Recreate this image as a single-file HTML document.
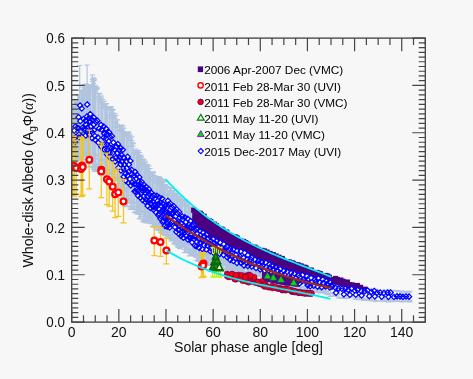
<!DOCTYPE html>
<html><head><meta charset="utf-8"><style>
html,body{margin:0;padding:0;background:#f7f7f7;}
body{width:473px;height:379px;overflow:hidden;position:relative;}
svg{position:absolute;left:0;top:0;will-change:transform;}
</style></head><body>
<svg width="473" height="379" viewBox="0 0 473 379">
<rect width="473" height="379" fill="#f7f7f7"/>
<defs><clipPath id="pc"><rect x="71.7" y="38.1" width="353.6" height="284.0"/></clipPath></defs>
<g clip-path="url(#pc)"><path stroke="#b0c4de" stroke-width="1.2" fill="none" d="M72.8 110.6V155.1M70.2 110.6h5.2M70.2 155.1h5.2M72.8 106.2V151.2M70.2 106.2h5.2M70.2 151.2h5.2M72.8 106.4V147.3M70.2 106.4h5.2M70.2 147.3h5.2M74.0 107.7V152.1M71.4 107.7h5.2M71.4 152.1h5.2M74.0 111.4V154.4M71.4 111.4h5.2M71.4 154.4h5.2M74.0 100.6V155.9M71.4 100.6h5.2M71.4 155.9h5.2M75.2 111.4V159.2M72.6 111.4h5.2M72.6 159.2h5.2M75.2 106.4V150.0M72.6 106.4h5.2M72.6 150.0h5.2M75.2 99.5V150.9M72.6 99.5h5.2M72.6 150.9h5.2M76.5 103.3V156.6M73.9 103.3h5.2M73.9 156.6h5.2M76.5 103.8V149.6M73.9 103.8h5.2M73.9 149.6h5.2M76.5 102.7V154.7M73.9 102.7h5.2M73.9 154.7h5.2M77.8 101.4V159.2M75.2 101.4h5.2M75.2 159.2h5.2M77.8 103.3V157.5M75.2 103.3h5.2M75.2 157.5h5.2M77.8 94.8V158.6M75.2 94.8h5.2M75.2 158.6h5.2M78.9 105.1V157.7M76.3 105.1h5.2M76.3 157.7h5.2M78.9 103.3V157.2M76.3 103.3h5.2M76.3 157.2h5.2M78.9 94.5V158.3M76.3 94.5h5.2M76.3 158.3h5.2M80.2 99.8V160.2M77.6 99.8h5.2M77.6 160.2h5.2M80.2 95.0V156.4M77.6 95.0h5.2M77.6 156.4h5.2M80.2 90.5V157.9M77.6 90.5h5.2M77.6 157.9h5.2M81.6 90.1V157.9M79.0 90.1h5.2M79.0 157.9h5.2M81.6 90.3V157.8M79.0 90.3h5.2M79.0 157.8h5.2M81.6 91.3V149.2M79.0 91.3h5.2M79.0 149.2h5.2M82.8 94.3V148.0M80.2 94.3h5.2M80.2 148.0h5.2M82.8 98.3V156.3M80.2 98.3h5.2M80.2 156.3h5.2M82.8 87.0V150.6M80.2 87.0h5.2M80.2 150.6h5.2M84.0 85.1V164.2M81.4 85.1h5.2M81.4 164.2h5.2M84.0 94.9V159.7M81.4 94.9h5.2M81.4 159.7h5.2M84.0 84.9V166.3M81.4 84.9h5.2M81.4 166.3h5.2M85.0 90.0V152.3M82.4 90.0h5.2M82.4 152.3h5.2M85.0 87.3V155.3M82.4 87.3h5.2M82.4 155.3h5.2M85.0 87.2V153.9M82.4 87.2h5.2M82.4 153.9h5.2M86.3 85.6V162.6M83.7 85.6h5.2M83.7 162.6h5.2M86.3 85.0V153.4M83.7 85.0h5.2M83.7 153.4h5.2M86.3 84.0V166.9M83.7 84.0h5.2M83.7 166.9h5.2M87.8 86.2V152.3M85.2 86.2h5.2M85.2 152.3h5.2M87.8 92.6V154.2M85.2 92.6h5.2M85.2 154.2h5.2M87.8 88.0V155.3M85.2 88.0h5.2M85.2 155.3h5.2M88.7 85.9V148.3M86.1 85.9h5.2M86.1 148.3h5.2M88.7 90.2V167.1M86.1 90.2h5.2M86.1 167.1h5.2M88.7 90.5V157.2M86.1 90.5h5.2M86.1 157.2h5.2M89.8 88.3V167.0M87.2 88.3h5.2M87.2 167.0h5.2M89.8 86.7V163.7M87.2 86.7h5.2M87.2 163.7h5.2M89.8 86.3V154.9M87.2 86.3h5.2M87.2 154.9h5.2M90.9 90.8V156.8M88.3 90.8h5.2M88.3 156.8h5.2M90.9 84.8V159.8M88.3 84.8h5.2M88.3 159.8h5.2M90.9 90.7V162.2M88.3 90.7h5.2M88.3 162.2h5.2M92.5 81.5V161.2M89.9 81.5h5.2M89.9 161.2h5.2M92.5 87.6V166.6M89.9 87.6h5.2M89.9 166.6h5.2M92.5 79.3V159.4M89.9 79.3h5.2M89.9 159.4h5.2M93.6 77.9V169.4M91.0 77.9h5.2M91.0 169.4h5.2M93.6 80.8V167.8M91.0 80.8h5.2M91.0 167.8h5.2M93.6 83.6V157.9M91.0 83.6h5.2M91.0 157.9h5.2M94.5 86.6V154.5M91.9 86.6h5.2M91.9 154.5h5.2M94.5 79.9V163.5M91.9 79.9h5.2M91.9 163.5h5.2M94.5 79.4V171.3M91.9 79.4h5.2M91.9 171.3h5.2M95.6 90.6V155.6M93.0 90.6h5.2M93.0 155.6h5.2M95.6 85.9V170.2M93.0 85.9h5.2M93.0 170.2h5.2M95.6 90.6V167.7M93.0 90.6h5.2M93.0 167.7h5.2M97.1 88.4V170.9M94.5 88.4h5.2M94.5 170.9h5.2M97.1 89.1V165.9M94.5 89.1h5.2M94.5 165.9h5.2M97.1 87.3V158.9M94.5 87.3h5.2M94.5 158.9h5.2M98.6 99.1V167.0M96.0 99.1h5.2M96.0 167.0h5.2M98.6 93.3V164.3M96.0 93.3h5.2M96.0 164.3h5.2M98.6 96.7V171.4M96.0 96.7h5.2M96.0 171.4h5.2M100.0 93.7V173.6M97.4 93.7h5.2M97.4 173.6h5.2M100.0 101.1V167.6M97.4 101.1h5.2M97.4 167.6h5.2M100.0 101.0V173.4M97.4 101.0h5.2M97.4 173.4h5.2M101.4 96.0V166.3M98.8 96.0h5.2M98.8 166.3h5.2M101.4 97.9V166.3M98.8 97.9h5.2M98.8 166.3h5.2M101.4 102.1V160.6M98.8 102.1h5.2M98.8 160.6h5.2M102.7 103.7V159.8M100.1 103.7h5.2M100.1 159.8h5.2M102.7 108.4V170.6M100.1 108.4h5.2M100.1 170.6h5.2M102.7 99.5V167.7M100.1 99.5h5.2M100.1 167.7h5.2M104.2 105.6V170.1M101.6 105.6h5.2M101.6 170.1h5.2M104.2 103.9V159.6M101.6 103.9h5.2M101.6 159.6h5.2M104.2 101.4V159.2M101.6 101.4h5.2M101.6 159.2h5.2M105.5 107.5V170.3M102.9 107.5h5.2M102.9 170.3h5.2M105.5 106.6V175.2M102.9 106.6h5.2M102.9 175.2h5.2M105.5 104.6V163.0M102.9 104.6h5.2M102.9 163.0h5.2M106.6 109.5V174.4M104.0 109.5h5.2M104.0 174.4h5.2M106.6 103.5V173.0M104.0 103.5h5.2M104.0 173.0h5.2M106.6 108.7V172.8M104.0 108.7h5.2M104.0 172.8h5.2M107.9 108.8V172.3M105.3 108.8h5.2M105.3 172.3h5.2M107.9 108.4V179.3M105.3 108.4h5.2M105.3 179.3h5.2M107.9 115.7V176.5M105.3 115.7h5.2M105.3 176.5h5.2M109.5 118.2V172.8M106.9 118.2h5.2M106.9 172.8h5.2M109.5 115.4V169.9M106.9 115.4h5.2M106.9 169.9h5.2M109.5 107.3V177.2M106.9 107.3h5.2M106.9 177.2h5.2M111.0 108.6V176.6M108.4 108.6h5.2M108.4 176.6h5.2M111.0 107.1V182.6M108.4 107.1h5.2M108.4 182.6h5.2M111.0 106.6V172.1M108.4 106.6h5.2M108.4 172.1h5.2M112.3 110.4V177.7M109.7 110.4h5.2M109.7 177.7h5.2M112.3 113.1V174.3M109.7 113.1h5.2M109.7 174.3h5.2M112.3 113.7V179.4M109.7 113.7h5.2M109.7 179.4h5.2M113.2 116.3V171.9M110.6 116.3h5.2M110.6 171.9h5.2M113.2 113.2V177.4M110.6 113.2h5.2M110.6 177.4h5.2M113.2 109.5V181.3M110.6 109.5h5.2M110.6 181.3h5.2M114.8 118.1V168.4M112.2 118.1h5.2M112.2 168.4h5.2M114.8 122.8V177.8M112.2 122.8h5.2M112.2 177.8h5.2M114.8 113.5V184.6M112.2 113.5h5.2M112.2 184.6h5.2M115.9 115.3V180.4M113.3 115.3h5.2M113.3 180.4h5.2M115.9 126.6V177.2M113.3 126.6h5.2M113.3 177.2h5.2M115.9 122.1V177.3M113.3 122.1h5.2M113.3 177.3h5.2M117.4 119.8V179.0M114.8 119.8h5.2M114.8 179.0h5.2M117.4 130.9V189.5M114.8 130.9h5.2M114.8 189.5h5.2M117.4 124.3V184.0M114.8 124.3h5.2M114.8 184.0h5.2M119.0 127.4V185.7M116.4 127.4h5.2M116.4 185.7h5.2M119.0 127.3V178.7M116.4 127.3h5.2M116.4 178.7h5.2M119.0 125.0V179.8M116.4 125.0h5.2M116.4 179.8h5.2M120.1 131.3V190.8M117.5 131.3h5.2M117.5 190.8h5.2M120.1 126.7V177.3M117.5 126.7h5.2M117.5 177.3h5.2M120.1 129.9V191.8M117.5 129.9h5.2M117.5 191.8h5.2M121.4 127.9V198.5M118.8 127.9h5.2M118.8 198.5h5.2M121.4 125.1V187.6M118.8 125.1h5.2M118.8 187.6h5.2M121.4 125.7V190.0M118.8 125.7h5.2M118.8 190.0h5.2M122.6 125.8V193.6M120.0 125.8h5.2M120.0 193.6h5.2M122.6 129.8V198.4M120.0 129.8h5.2M120.0 198.4h5.2M122.6 132.0V185.9M120.0 132.0h5.2M120.0 185.9h5.2M123.6 128.2V187.8M121.0 128.2h5.2M121.0 187.8h5.2M123.6 133.3V201.4M121.0 133.3h5.2M121.0 201.4h5.2M123.6 131.6V196.9M121.0 131.6h5.2M121.0 196.9h5.2M124.7 132.5V190.5M122.1 132.5h5.2M122.1 190.5h5.2M124.7 135.5V206.6M122.1 135.5h5.2M122.1 206.6h5.2M124.7 135.2V199.9M122.1 135.2h5.2M122.1 199.9h5.2M126.2 135.3V189.6M123.6 135.3h5.2M123.6 189.6h5.2M126.2 134.6V199.9M123.6 134.6h5.2M123.6 199.9h5.2M126.2 133.3V188.0M123.6 133.3h5.2M123.6 188.0h5.2M127.3 134.5V188.3M124.7 134.5h5.2M124.7 188.3h5.2M127.3 134.6V191.8M124.7 134.6h5.2M124.7 191.8h5.2M127.3 136.3V206.1M124.7 136.3h5.2M124.7 206.1h5.2M128.7 133.4V203.2M126.1 133.4h5.2M126.1 203.2h5.2M128.7 131.8V195.2M126.1 131.8h5.2M126.1 195.2h5.2M128.7 136.8V198.9M126.1 136.8h5.2M126.1 198.9h5.2M130.2 139.2V209.5M127.6 139.2h5.2M127.6 209.5h5.2M130.2 146.4V206.8M127.6 146.4h5.2M127.6 206.8h5.2M130.2 135.2V209.1M127.6 135.2h5.2M127.6 209.1h5.2M131.7 136.9V208.9M129.1 136.9h5.2M129.1 208.9h5.2M131.7 146.3V201.2M129.1 146.3h5.2M129.1 201.2h5.2M131.7 140.7V195.0M129.1 140.7h5.2M129.1 195.0h5.2M133.1 143.7V209.3M130.5 143.7h5.2M130.5 209.3h5.2M133.1 146.0V202.3M130.5 146.0h5.2M130.5 202.3h5.2M133.1 142.8V209.2M130.5 142.8h5.2M130.5 209.2h5.2M134.4 154.3V212.3M131.8 154.3h5.2M131.8 212.3h5.2M134.4 150.5V202.8M131.8 150.5h5.2M131.8 202.8h5.2M134.4 153.0V212.6M131.8 153.0h5.2M131.8 212.6h5.2M136.0 152.8V209.7M133.4 152.8h5.2M133.4 209.7h5.2M136.0 149.0V212.5M133.4 149.0h5.2M133.4 212.5h5.2M136.0 157.4V206.7M133.4 157.4h5.2M133.4 206.7h5.2M137.1 157.0V213.1M134.5 157.0h5.2M134.5 213.1h5.2M137.1 154.2V203.7M134.5 154.2h5.2M134.5 203.7h5.2M137.1 151.8V214.0M134.5 151.8h5.2M134.5 214.0h5.2M138.2 155.7V211.6M135.6 155.7h5.2M135.6 211.6h5.2M138.2 150.7V204.5M135.6 150.7h5.2M135.6 204.5h5.2M138.2 150.9V210.9M135.6 150.9h5.2M135.6 210.9h5.2M139.4 152.5V214.3M136.8 152.5h5.2M136.8 214.3h5.2M139.4 158.9V218.7M136.8 158.9h5.2M136.8 218.7h5.2M139.4 155.5V205.7M136.8 155.5h5.2M136.8 205.7h5.2M140.7 166.4V219.0M138.1 166.4h5.2M138.1 219.0h5.2M140.7 155.6V216.7M138.1 155.6h5.2M138.1 216.7h5.2M140.7 155.2V212.4M138.1 155.2h5.2M138.1 212.4h5.2M141.6 159.0V211.3M139.0 159.0h5.2M139.0 211.3h5.2M141.6 163.2V211.4M139.0 163.2h5.2M139.0 211.4h5.2M141.6 157.2V206.6M139.0 157.2h5.2M139.0 206.6h5.2M143.0 169.0V221.2M140.4 169.0h5.2M140.4 221.2h5.2M143.0 159.0V214.7M140.4 159.0h5.2M140.4 214.7h5.2M143.0 163.3V221.8M140.4 163.3h5.2M140.4 221.8h5.2M144.3 164.8V213.0M141.7 164.8h5.2M141.7 213.0h5.2M144.3 165.5V219.9M141.7 165.5h5.2M141.7 219.9h5.2M144.3 160.2V212.0M141.7 160.2h5.2M141.7 212.0h5.2M145.4 169.3V216.1M142.8 169.3h5.2M142.8 216.1h5.2M145.4 162.7V222.0M142.8 162.7h5.2M142.8 222.0h5.2M145.4 162.1V222.6M142.8 162.1h5.2M142.8 222.6h5.2M146.7 173.9V221.6M144.1 173.9h5.2M144.1 221.6h5.2M146.7 165.3V219.8M144.1 165.3h5.2M144.1 219.8h5.2M146.7 170.7V223.0M144.1 170.7h5.2M144.1 223.0h5.2M147.7 170.6V216.6M145.1 170.6h5.2M145.1 216.6h5.2M147.7 164.6V218.1M145.1 164.6h5.2M145.1 218.1h5.2M147.7 172.0V220.4M145.1 172.0h5.2M145.1 220.4h5.2M148.9 171.9V214.0M146.3 171.9h5.2M146.3 214.0h5.2M148.9 172.3V219.9M146.3 172.3h5.2M146.3 219.9h5.2M148.9 166.0V221.5M146.3 166.0h5.2M146.3 221.5h5.2M149.9 173.9V216.8M147.3 173.9h5.2M147.3 216.8h5.2M149.9 172.3V214.9M147.3 172.3h5.2M147.3 214.9h5.2M149.9 168.5V223.4M147.3 168.5h5.2M147.3 223.4h5.2M151.0 173.2V219.5M148.4 173.2h5.2M148.4 219.5h5.2M151.0 176.7V217.8M148.4 176.7h5.2M148.4 217.8h5.2M151.0 180.1V223.6M148.4 180.1h5.2M148.4 223.6h5.2M152.4 179.7V222.4M149.8 179.7h5.2M149.8 222.4h5.2M152.4 174.8V220.2M149.8 174.8h5.2M149.8 220.2h5.2M152.4 172.3V226.7M149.8 172.3h5.2M149.8 226.7h5.2M153.3 172.9V226.4M150.7 172.9h5.2M150.7 226.4h5.2M153.3 175.0V217.3M150.7 175.0h5.2M150.7 217.3h5.2M153.3 171.9V226.0M150.7 171.9h5.2M150.7 226.0h5.2M154.8 182.5V224.2M152.2 182.5h5.2M152.2 224.2h5.2M154.8 175.9V224.5M152.2 175.9h5.2M152.2 224.5h5.2M154.8 176.3V226.9M152.2 176.3h5.2M152.2 226.9h5.2M156.2 178.1V219.6M153.6 178.1h5.2M153.6 219.6h5.2M156.2 182.9V229.2M153.6 182.9h5.2M153.6 229.2h5.2M156.2 181.3V222.3M153.6 181.3h5.2M153.6 222.3h5.2M157.3 178.0V222.9M154.7 178.0h5.2M154.7 222.9h5.2M157.3 177.5V224.2M154.7 177.5h5.2M154.7 224.2h5.2M157.3 181.3V225.9M154.7 181.3h5.2M154.7 225.9h5.2M158.2 179.6V230.4M155.6 179.6h5.2M155.6 230.4h5.2M158.2 176.7V226.6M155.6 176.7h5.2M155.6 226.6h5.2M158.2 180.7V230.4M155.6 180.7h5.2M155.6 230.4h5.2M159.6 183.9V225.8M157.0 183.9h5.2M157.0 225.8h5.2M159.6 182.8V226.2M157.0 182.8h5.2M157.0 226.2h5.2M159.6 177.2V225.9M157.0 177.2h5.2M157.0 225.9h5.2M160.5 181.7V228.8M157.9 181.7h5.2M157.9 228.8h5.2M160.5 178.4V229.0M157.9 178.4h5.2M157.9 229.0h5.2M160.5 184.6V232.2M157.9 184.6h5.2M157.9 232.2h5.2M161.7 187.5V229.2M159.1 187.5h5.2M159.1 229.2h5.2M161.7 186.3V233.1M159.1 186.3h5.2M159.1 233.1h5.2M161.7 185.6V226.1M159.1 185.6h5.2M159.1 226.1h5.2M162.8 179.5V228.3M160.2 179.5h5.2M160.2 228.3h5.2M162.8 185.8V234.2M160.2 185.8h5.2M160.2 234.2h5.2M162.8 184.9V221.4M160.2 184.9h5.2M160.2 221.4h5.2M164.0 181.9V234.4M161.4 181.9h5.2M161.4 234.4h5.2M164.0 181.3V233.7M161.4 181.3h5.2M161.4 233.7h5.2M164.0 180.7V232.1M161.4 180.7h5.2M161.4 232.1h5.2M164.9 188.2V231.8M162.3 188.2h5.2M162.3 231.8h5.2M164.9 187.8V224.8M162.3 187.8h5.2M162.3 224.8h5.2M164.9 186.0V235.7M162.3 186.0h5.2M162.3 235.7h5.2M165.9 193.5V235.1M163.3 193.5h5.2M163.3 235.1h5.2M165.9 184.7V234.2M163.3 184.7h5.2M163.3 234.2h5.2M165.9 184.9V227.4M163.3 184.9h5.2M163.3 227.4h5.2M167.5 187.9V237.0M164.9 187.9h5.2M164.9 237.0h5.2M167.5 186.6V235.4M164.9 186.6h5.2M164.9 235.4h5.2M167.5 195.4V232.6M164.9 195.4h5.2M164.9 232.6h5.2M168.4 195.0V238.3M165.8 195.0h5.2M165.8 238.3h5.2M168.4 193.8V236.1M165.8 193.8h5.2M165.8 236.1h5.2M168.4 190.4V236.7M165.8 190.4h5.2M165.8 236.7h5.2M169.8 191.6V228.0M167.2 191.6h5.2M167.2 228.0h5.2M169.8 187.7V238.1M167.2 187.7h5.2M167.2 238.1h5.2M169.8 199.7V237.6M167.2 199.7h5.2M167.2 237.6h5.2M171.1 188.5V239.3M168.5 188.5h5.2M168.5 239.3h5.2M171.1 191.3V234.7M168.5 191.3h5.2M168.5 234.7h5.2M171.1 198.5V240.8M168.5 198.5h5.2M168.5 240.8h5.2M172.5 191.7V240.6M169.9 191.7h5.2M169.9 240.6h5.2M172.5 193.6V234.9M169.9 193.6h5.2M169.9 234.9h5.2M172.5 199.6V237.8M169.9 199.6h5.2M169.9 237.8h5.2M173.9 195.8V231.0M171.3 195.8h5.2M171.3 231.0h5.2M173.9 196.3V243.9M171.3 196.3h5.2M171.3 243.9h5.2M173.9 190.3V240.4M171.3 190.3h5.2M171.3 240.4h5.2M174.9 193.2V240.4M172.3 193.2h5.2M172.3 240.4h5.2M174.9 197.1V238.6M172.3 197.1h5.2M172.3 238.6h5.2M174.9 194.1V242.7M172.3 194.1h5.2M172.3 242.7h5.2M176.3 201.1V244.8M173.7 201.1h5.2M173.7 244.8h5.2M176.3 195.0V238.0M173.7 195.0h5.2M173.7 238.0h5.2M176.3 200.9V240.8M173.7 200.9h5.2M173.7 240.8h5.2M177.4 193.6V240.8M174.8 193.6h5.2M174.8 240.8h5.2M177.4 197.2V246.8M174.8 197.2h5.2M174.8 246.8h5.2M177.4 199.7V245.0M174.8 199.7h5.2M174.8 245.0h5.2M178.8 206.0V246.0M176.2 206.0h5.2M176.2 246.0h5.2M178.8 196.0V247.5M176.2 196.0h5.2M176.2 247.5h5.2M178.8 197.2V234.1M176.2 197.2h5.2M176.2 234.1h5.2M179.8 200.4V248.6M177.2 200.4h5.2M177.2 248.6h5.2M179.8 196.0V242.5M177.2 196.0h5.2M177.2 242.5h5.2M179.8 196.4V248.1M177.2 196.4h5.2M177.2 248.1h5.2M180.8 199.4V242.8M178.2 199.4h5.2M178.2 242.8h5.2M180.8 202.2V240.5M178.2 202.2h5.2M178.2 240.5h5.2M180.8 198.4V245.1M178.2 198.4h5.2M178.2 245.1h5.2M181.8 199.5V245.4M179.2 199.5h5.2M179.2 245.4h5.2M181.8 200.7V239.6M179.2 200.7h5.2M179.2 239.6h5.2M181.8 201.7V244.5M179.2 201.7h5.2M179.2 244.5h5.2M182.8 200.9V247.2M180.2 200.9h5.2M180.2 247.2h5.2M182.8 201.6V246.7M180.2 201.6h5.2M180.2 246.7h5.2M182.8 203.0V243.6M180.2 203.0h5.2M180.2 243.6h5.2M184.4 201.7V244.7M181.8 201.7h5.2M181.8 244.7h5.2M184.4 199.7V252.5M181.8 199.7h5.2M181.8 252.5h5.2M184.4 204.7V249.3M181.8 204.7h5.2M181.8 249.3h5.2M185.4 199.9V244.2M182.8 199.9h5.2M182.8 244.2h5.2M185.4 206.3V252.6M182.8 206.3h5.2M182.8 252.6h5.2M185.4 206.5V243.0M182.8 206.5h5.2M182.8 243.0h5.2M186.7 201.6V246.7M184.1 201.6h5.2M184.1 246.7h5.2M186.7 206.8V250.1M184.1 206.8h5.2M184.1 250.1h5.2M186.7 204.6V247.6M184.1 204.6h5.2M184.1 247.6h5.2M188.2 204.8V252.7M185.6 204.8h5.2M185.6 252.7h5.2M188.2 212.3V251.5M185.6 212.3h5.2M185.6 251.5h5.2M188.2 202.5V253.0M185.6 202.5h5.2M185.6 253.0h5.2M189.2 210.5V255.8M186.6 210.5h5.2M186.6 255.8h5.2M189.2 204.8V248.9M186.6 204.8h5.2M186.6 248.9h5.2M189.2 211.6V252.3M186.6 211.6h5.2M186.6 252.3h5.2M190.7 213.7V252.4M188.1 213.7h5.2M188.1 252.4h5.2M190.7 208.1V250.3M188.1 208.1h5.2M188.1 250.3h5.2M190.7 208.2V253.3M188.1 208.2h5.2M188.1 253.3h5.2M192.2 207.9V254.5M189.6 207.9h5.2M189.6 254.5h5.2M192.2 206.8V244.4M189.6 206.8h5.2M189.6 244.4h5.2M192.2 210.2V254.9M189.6 210.2h5.2M189.6 254.9h5.2M193.3 210.3V252.6M190.7 210.3h5.2M190.7 252.6h5.2M193.3 212.4V254.3M190.7 212.4h5.2M190.7 254.3h5.2M193.3 208.7V250.9M190.7 208.7h5.2M190.7 250.9h5.2M194.4 210.6V255.9M191.8 210.6h5.2M191.8 255.9h5.2M194.4 211.1V247.6M191.8 211.1h5.2M191.8 247.6h5.2M194.4 211.1V246.8M191.8 211.1h5.2M191.8 246.8h5.2M195.6 217.3V256.9M193.0 217.3h5.2M193.0 256.9h5.2M195.6 210.8V257.2M193.0 210.8h5.2M193.0 257.2h5.2M195.6 217.2V255.7M193.0 217.2h5.2M193.0 255.7h5.2M196.8 220.5V260.4M194.2 220.5h5.2M194.2 260.4h5.2M196.8 213.7V260.3M194.2 213.7h5.2M194.2 260.3h5.2M196.8 210.6V254.6M194.2 210.6h5.2M194.2 254.6h5.2M198.3 221.1V260.9M195.7 221.1h5.2M195.7 260.9h5.2M198.3 222.3V258.7M195.7 222.3h5.2M195.7 258.7h5.2M198.3 220.2V261.3M195.7 220.2h5.2M195.7 261.3h5.2M199.4 221.5V259.5M196.8 221.5h5.2M196.8 259.5h5.2M199.4 221.5V258.7M196.8 221.5h5.2M196.8 258.7h5.2M199.4 218.1V253.5M196.8 218.1h5.2M196.8 253.5h5.2M200.4 214.0V259.0M197.8 214.0h5.2M197.8 259.0h5.2M200.4 222.6V261.9M197.8 222.6h5.2M197.8 261.9h5.2M200.4 215.9V258.3M197.8 215.9h5.2M197.8 258.3h5.2M201.6 219.3V261.1M199.0 219.3h5.2M199.0 261.1h5.2M201.6 224.0V263.5M199.0 224.0h5.2M199.0 263.5h5.2M201.6 219.9V261.9M199.0 219.9h5.2M199.0 261.9h5.2M202.7 220.3V261.0M200.1 220.3h5.2M200.1 261.0h5.2M202.7 220.9V258.3M200.1 220.9h5.2M200.1 258.3h5.2M202.7 224.4V262.6M200.1 224.4h5.2M200.1 262.6h5.2M203.8 216.7V261.0M201.2 216.7h5.2M201.2 261.0h5.2M203.8 222.4V256.5M201.2 222.4h5.2M201.2 256.5h5.2M203.8 219.8V258.9M201.2 219.8h5.2M201.2 258.9h5.2M205.0 218.4V256.7M202.4 218.4h5.2M202.4 256.7h5.2M205.0 219.4V253.0M202.4 219.4h5.2M202.4 253.0h5.2M205.0 219.9V252.0M202.4 219.9h5.2M202.4 252.0h5.2M206.1 220.7V260.2M203.5 220.7h5.2M203.5 260.2h5.2M206.1 220.5V258.7M203.5 220.5h5.2M203.5 258.7h5.2M206.1 218.9V255.4M203.5 218.9h5.2M203.5 255.4h5.2M207.1 220.9V263.7M204.5 220.9h5.2M204.5 263.7h5.2M207.1 224.8V260.6M204.5 224.8h5.2M204.5 260.6h5.2M207.1 220.7V259.3M204.5 220.7h5.2M204.5 259.3h5.2M208.3 224.8V265.3M205.7 224.8h5.2M205.7 265.3h5.2M208.3 226.8V265.1M205.7 226.8h5.2M205.7 265.1h5.2M208.3 222.2V257.8M205.7 222.2h5.2M205.7 257.8h5.2M209.3 222.2V253.2M206.7 222.2h5.2M206.7 253.2h5.2M209.3 221.8V258.8M206.7 221.8h5.2M206.7 258.8h5.2M209.3 223.2V260.3M206.7 223.2h5.2M206.7 260.3h5.2M210.7 229.5V262.3M208.1 229.5h5.2M208.1 262.3h5.2M210.7 227.3V265.4M208.1 227.3h5.2M208.1 265.4h5.2M210.7 224.8V260.2M208.1 224.8h5.2M208.1 260.2h5.2M212.2 227.5V265.3M209.6 227.5h5.2M209.6 265.3h5.2M212.2 228.0V258.7M209.6 228.0h5.2M209.6 258.7h5.2M212.2 227.7V259.6M209.6 227.7h5.2M209.6 259.6h5.2M213.6 225.1V265.5M211.0 225.1h5.2M211.0 265.5h5.2M213.6 226.1V261.4M211.0 226.1h5.2M211.0 261.4h5.2M213.6 227.9V262.9M211.0 227.9h5.2M211.0 262.9h5.2M214.9 232.0V267.4M212.3 232.0h5.2M212.3 267.4h5.2M214.9 227.1V258.2M212.3 227.1h5.2M212.3 258.2h5.2M214.9 225.1V266.3M212.3 225.1h5.2M212.3 266.3h5.2M216.1 231.2V264.1M213.5 231.2h5.2M213.5 264.1h5.2M216.1 228.6V266.7M213.5 228.6h5.2M213.5 266.7h5.2M216.1 225.4V264.4M213.5 225.4h5.2M213.5 264.4h5.2M217.6 227.1V264.8M215.0 227.1h5.2M215.0 264.8h5.2M217.6 229.4V264.1M215.0 229.4h5.2M215.0 264.1h5.2M217.6 227.8V258.6M215.0 227.8h5.2M215.0 258.6h5.2M219.1 230.9V258.9M216.5 230.9h5.2M216.5 258.9h5.2M219.1 232.8V264.9M216.5 232.8h5.2M216.5 264.9h5.2M219.1 230.1V265.3M216.5 230.1h5.2M216.5 265.3h5.2M220.4 229.6V263.2M217.8 229.6h5.2M217.8 263.2h5.2M220.4 232.0V268.1M217.8 232.0h5.2M217.8 268.1h5.2M220.4 228.5V264.2M217.8 228.5h5.2M217.8 264.2h5.2M221.9 228.9V265.6M219.3 228.9h5.2M219.3 265.6h5.2M221.9 232.3V259.6M219.3 232.3h5.2M219.3 259.6h5.2M221.9 230.0V267.9M219.3 230.0h5.2M219.3 267.9h5.2M223.4 234.2V263.9M220.8 234.2h5.2M220.8 263.9h5.2M223.4 230.1V261.2M220.8 230.1h5.2M220.8 261.2h5.2M223.4 232.1V260.9M220.8 232.1h5.2M220.8 260.9h5.2M224.5 231.1V264.3M221.9 231.1h5.2M221.9 264.3h5.2M224.5 229.9V265.8M221.9 229.9h5.2M221.9 265.8h5.2M224.5 232.9V265.6M221.9 232.9h5.2M221.9 265.6h5.2M225.7 231.7V265.4M223.1 231.7h5.2M223.1 265.4h5.2M225.7 233.8V266.0M223.1 233.8h5.2M223.1 266.0h5.2M225.7 238.0V270.0M223.1 238.0h5.2M223.1 270.0h5.2M226.7 233.4V268.3M224.1 233.4h5.2M224.1 268.3h5.2M226.7 240.0V269.1M224.1 240.0h5.2M224.1 269.1h5.2M226.7 232.2V264.7M224.1 232.2h5.2M224.1 264.7h5.2M228.0 232.5V264.9M225.4 232.5h5.2M225.4 264.9h5.2M228.0 238.0V268.3M225.4 238.0h5.2M225.4 268.3h5.2M228.0 235.3V266.1M225.4 235.3h5.2M225.4 266.1h5.2M229.3 233.1V268.5M226.7 233.1h5.2M226.7 268.5h5.2M229.3 235.3V268.5M226.7 235.3h5.2M226.7 268.5h5.2M229.3 235.7V270.9M226.7 235.7h5.2M226.7 270.9h5.2M230.3 241.2V268.6M227.7 241.2h5.2M227.7 268.6h5.2M230.3 233.3V267.4M227.7 233.3h5.2M227.7 267.4h5.2M230.3 233.4V265.6M227.7 233.4h5.2M227.7 265.6h5.2M231.5 235.0V270.4M228.9 235.0h5.2M228.9 270.4h5.2M231.5 238.1V268.1M228.9 238.1h5.2M228.9 268.1h5.2M231.5 234.1V268.8M228.9 234.1h5.2M228.9 268.8h5.2M232.9 236.6V270.1M230.3 236.6h5.2M230.3 270.1h5.2M232.9 240.1V268.9M230.3 240.1h5.2M230.3 268.9h5.2M232.9 240.7V269.1M230.3 240.7h5.2M230.3 269.1h5.2M234.0 236.0V268.0M231.4 236.0h5.2M231.4 268.0h5.2M234.0 237.9V265.9M231.4 237.9h5.2M231.4 265.9h5.2M234.0 240.1V267.9M231.4 240.1h5.2M231.4 267.9h5.2M235.0 237.8V269.9M232.4 237.8h5.2M232.4 269.9h5.2M235.0 243.4V270.6M232.4 243.4h5.2M232.4 270.6h5.2M235.0 237.2V271.7M232.4 237.2h5.2M232.4 271.7h5.2M236.3 237.5V264.5M233.7 237.5h5.2M233.7 264.5h5.2M236.3 238.6V264.0M233.7 238.6h5.2M233.7 264.0h5.2M236.3 237.1V270.3M233.7 237.1h5.2M233.7 270.3h5.2M237.5 240.3V268.1M234.9 240.3h5.2M234.9 268.1h5.2M237.5 240.6V271.2M234.9 240.6h5.2M234.9 271.2h5.2M237.5 241.5V271.3M234.9 241.5h5.2M234.9 271.3h5.2M238.9 241.7V270.9M236.3 241.7h5.2M236.3 270.9h5.2M238.9 239.3V271.8M236.3 239.3h5.2M236.3 271.8h5.2M238.9 240.0V271.6M236.3 240.0h5.2M236.3 271.6h5.2M240.1 239.9V266.1M237.5 239.9h5.2M237.5 266.1h5.2M240.1 239.3V270.9M237.5 239.3h5.2M237.5 270.9h5.2M240.1 243.1V270.0M237.5 243.1h5.2M237.5 270.0h5.2M241.4 242.6V271.4M238.8 242.6h5.2M238.8 271.4h5.2M241.4 245.6V272.1M238.8 245.6h5.2M238.8 272.1h5.2M241.4 243.3V271.1M238.8 243.3h5.2M238.8 271.1h5.2M242.9 240.8V265.2M240.3 240.8h5.2M240.3 265.2h5.2M242.9 239.9V271.5M240.3 239.9h5.2M240.3 271.5h5.2M242.9 240.9V269.0M240.3 240.9h5.2M240.3 269.0h5.2M244.3 242.3V272.3M241.7 242.3h5.2M241.7 272.3h5.2M244.3 243.7V272.9M241.7 243.7h5.2M241.7 272.9h5.2M244.3 241.4V268.4M241.7 241.4h5.2M241.7 268.4h5.2M245.8 240.9V267.9M243.2 240.9h5.2M243.2 267.9h5.2M245.8 243.1V268.0M243.2 243.1h5.2M243.2 268.0h5.2M245.8 242.5V267.9M243.2 242.5h5.2M243.2 267.9h5.2M247.2 245.1V268.5M244.6 245.1h5.2M244.6 268.5h5.2M247.2 242.0V271.9M244.6 242.0h5.2M244.6 271.9h5.2M247.2 242.4V268.9M244.6 242.4h5.2M244.6 268.9h5.2M248.2 242.9V272.0M245.6 242.9h5.2M245.6 272.0h5.2M248.2 245.5V271.8M245.6 245.5h5.2M245.6 271.8h5.2M248.2 242.3V268.9M245.6 242.3h5.2M245.6 268.9h5.2M249.6 244.2V272.3M247.0 244.2h5.2M247.0 272.3h5.2M249.6 244.8V268.0M247.0 244.8h5.2M247.0 268.0h5.2M249.6 247.6V273.3M247.0 247.6h5.2M247.0 273.3h5.2M250.7 246.9V270.4M248.1 246.9h5.2M248.1 270.4h5.2M250.7 247.1V271.7M248.1 247.1h5.2M248.1 271.7h5.2M250.7 246.6V269.2M248.1 246.6h5.2M248.1 269.2h5.2M251.9 245.8V272.1M249.3 245.8h5.2M249.3 272.1h5.2M251.9 244.3V273.0M249.3 244.3h5.2M249.3 273.0h5.2M251.9 244.5V273.1M249.3 244.5h5.2M249.3 273.1h5.2M253.3 245.3V271.3M250.7 245.3h5.2M250.7 271.3h5.2M253.3 247.4V273.6M250.7 247.4h5.2M250.7 273.6h5.2M253.3 249.4V271.0M250.7 249.4h5.2M250.7 271.0h5.2M254.3 246.1V270.0M251.7 246.1h5.2M251.7 270.0h5.2M254.3 245.5V272.7M251.7 245.5h5.2M251.7 272.7h5.2M254.3 245.6V271.5M251.7 245.6h5.2M251.7 271.5h5.2M255.8 246.6V274.1M253.2 246.6h5.2M253.2 274.1h5.2M255.8 251.6V274.1M253.2 251.6h5.2M253.2 274.1h5.2M255.8 247.3V272.4M253.2 247.3h5.2M253.2 272.4h5.2M257.3 250.7V272.3M254.7 250.7h5.2M254.7 272.3h5.2M257.3 248.4V268.9M254.7 248.4h5.2M254.7 268.9h5.2M257.3 251.0V273.0M254.7 251.0h5.2M254.7 273.0h5.2M258.6 248.0V271.7M256.0 248.0h5.2M256.0 271.7h5.2M258.6 251.0V275.0M256.0 251.0h5.2M256.0 275.0h5.2M258.6 248.2V273.8M256.0 248.2h5.2M256.0 273.8h5.2M259.7 254.8V275.9M257.1 254.8h5.2M257.1 275.9h5.2M259.7 253.5V275.0M257.1 253.5h5.2M257.1 275.0h5.2M259.7 248.3V274.2M257.1 248.3h5.2M257.1 274.2h5.2M261.3 251.3V276.6M258.7 251.3h5.2M258.7 276.6h5.2M261.3 249.5V274.2M258.7 249.5h5.2M258.7 274.2h5.2M261.3 249.3V273.5M258.7 249.3h5.2M258.7 273.5h5.2M262.6 250.5V274.1M260.0 250.5h5.2M260.0 274.1h5.2M262.6 252.0V275.4M260.0 252.0h5.2M260.0 275.4h5.2M262.6 253.9V277.2M260.0 253.9h5.2M260.0 277.2h5.2M263.7 253.5V275.8M261.1 253.5h5.2M261.1 275.8h5.2M263.7 252.4V277.8M261.1 252.4h5.2M261.1 277.8h5.2M263.7 252.7V274.1M261.1 252.7h5.2M261.1 274.1h5.2M265.1 251.7V274.9M262.5 251.7h5.2M262.5 274.9h5.2M265.1 251.2V277.2M262.5 251.2h5.2M262.5 277.2h5.2M265.1 252.5V271.2M262.5 252.5h5.2M262.5 271.2h5.2M266.1 253.7V278.4M263.5 253.7h5.2M263.5 278.4h5.2M266.1 251.6V277.9M263.5 251.6h5.2M263.5 277.9h5.2M266.1 253.0V277.9M263.5 253.0h5.2M263.5 277.9h5.2M267.4 256.1V278.4M264.8 256.1h5.2M264.8 278.4h5.2M267.4 252.8V275.1M264.8 252.8h5.2M264.8 275.1h5.2M267.4 254.9V278.1M264.8 254.9h5.2M264.8 278.1h5.2M268.9 255.9V279.6M266.3 255.9h5.2M266.3 279.6h5.2M268.9 255.1V278.0M266.3 255.1h5.2M266.3 278.0h5.2M268.9 254.7V276.2M266.3 254.7h5.2M266.3 276.2h5.2M270.1 253.4V276.9M267.5 253.4h5.2M267.5 276.9h5.2M270.1 257.8V276.8M267.5 257.8h5.2M267.5 276.8h5.2M270.1 255.6V280.6M267.5 255.6h5.2M267.5 280.6h5.2M271.4 255.2V278.2M268.8 255.2h5.2M268.8 278.2h5.2M271.4 253.8V280.1M268.8 253.8h5.2M268.8 280.1h5.2M271.4 257.4V279.4M268.8 257.4h5.2M268.8 279.4h5.2M272.4 257.2V274.8M269.8 257.2h5.2M269.8 274.8h5.2M272.4 258.9V281.7M269.8 258.9h5.2M269.8 281.7h5.2M272.4 254.6V275.3M269.8 254.6h5.2M269.8 275.3h5.2M273.3 258.8V281.2M270.7 258.8h5.2M270.7 281.2h5.2M273.3 257.6V280.6M270.7 257.6h5.2M270.7 280.6h5.2M273.3 255.4V281.2M270.7 255.4h5.2M270.7 281.2h5.2M274.3 256.6V280.3M271.7 256.6h5.2M271.7 280.3h5.2M274.3 259.9V282.5M271.7 259.9h5.2M271.7 282.5h5.2M274.3 260.5V278.9M271.7 260.5h5.2M271.7 278.9h5.2M275.6 261.2V281.0M273.0 261.2h5.2M273.0 281.0h5.2M275.6 260.4V282.6M273.0 260.4h5.2M273.0 282.6h5.2M275.6 259.9V279.9M273.0 259.9h5.2M273.0 279.9h5.2M276.9 257.8V279.0M274.3 257.8h5.2M274.3 279.0h5.2M276.9 260.1V282.5M274.3 260.1h5.2M274.3 282.5h5.2M276.9 259.3V281.1M274.3 259.3h5.2M274.3 281.1h5.2M278.4 258.6V283.3M275.8 258.6h5.2M275.8 283.3h5.2M278.4 260.3V284.2M275.8 260.3h5.2M275.8 284.2h5.2M278.4 258.1V281.7M275.8 258.1h5.2M275.8 281.7h5.2M279.7 258.9V284.0M277.1 258.9h5.2M277.1 284.0h5.2M279.7 259.8V284.2M277.1 259.8h5.2M277.1 284.2h5.2M279.7 259.0V282.5M277.1 259.0h5.2M277.1 282.5h5.2M281.2 262.7V282.2M278.6 262.7h5.2M278.6 282.2h5.2M281.2 260.4V282.7M278.6 260.4h5.2M278.6 282.7h5.2M281.2 259.3V282.4M278.6 259.3h5.2M278.6 282.4h5.2M282.7 260.1V284.6M280.1 260.1h5.2M280.1 284.6h5.2M282.7 259.8V284.7M280.1 259.8h5.2M280.1 284.7h5.2M282.7 259.8V283.4M280.1 259.8h5.2M280.1 283.4h5.2M283.7 260.7V282.5M281.1 260.7h5.2M281.1 282.5h5.2M283.7 260.2V283.6M281.1 260.2h5.2M281.1 283.6h5.2M283.7 261.3V283.9M281.1 261.3h5.2M281.1 283.9h5.2M284.7 261.1V285.3M282.1 261.1h5.2M282.1 285.3h5.2M284.7 263.9V285.6M282.1 263.9h5.2M282.1 285.6h5.2M284.7 264.5V285.2M282.1 264.5h5.2M282.1 285.2h5.2M286.3 264.0V285.9M283.7 264.0h5.2M283.7 285.9h5.2M286.3 264.8V283.6M283.7 264.8h5.2M283.7 283.6h5.2M286.3 261.9V282.7M283.7 261.9h5.2M283.7 282.7h5.2M287.6 263.5V282.9M285.0 263.5h5.2M285.0 282.9h5.2M287.6 261.8V282.7M285.0 261.8h5.2M285.0 282.7h5.2M287.6 262.5V286.0M285.0 262.5h5.2M285.0 286.0h5.2M288.6 265.2V285.9M286.0 265.2h5.2M286.0 285.9h5.2M288.6 263.9V287.9M286.0 263.9h5.2M286.0 287.9h5.2M288.6 265.3V286.9M286.0 265.3h5.2M286.0 286.9h5.2M289.6 265.9V288.2M287.0 265.9h5.2M287.0 288.2h5.2M289.6 263.8V288.3M287.0 263.8h5.2M287.0 288.3h5.2M289.6 265.5V283.2M287.0 265.5h5.2M287.0 283.2h5.2M290.7 265.1V285.4M288.1 265.1h5.2M288.1 285.4h5.2M290.7 266.5V288.6M288.1 266.5h5.2M288.1 288.6h5.2M290.7 269.0V287.9M288.1 269.0h5.2M288.1 287.9h5.2M291.8 264.0V283.7M289.2 264.0h5.2M289.2 283.7h5.2M291.8 265.5V289.0M289.2 265.5h5.2M289.2 289.0h5.2M291.8 266.9V287.2M289.2 266.9h5.2M289.2 287.2h5.2M292.9 264.5V288.3M290.3 264.5h5.2M290.3 288.3h5.2M292.9 265.6V284.4M290.3 265.6h5.2M290.3 284.4h5.2M292.9 265.0V289.2M290.3 265.0h5.2M290.3 289.2h5.2M293.8 266.5V288.9M291.2 266.5h5.2M291.2 288.9h5.2M293.8 271.0V288.7M291.2 271.0h5.2M291.2 288.7h5.2M293.8 265.2V288.9M291.2 265.2h5.2M291.2 288.9h5.2M294.9 266.5V286.7M292.3 266.5h5.2M292.3 286.7h5.2M294.9 267.7V285.1M292.3 267.7h5.2M292.3 285.1h5.2M294.9 268.7V286.6M292.3 268.7h5.2M292.3 286.6h5.2M295.9 270.7V289.6M293.3 270.7h5.2M293.3 289.6h5.2M295.9 268.2V290.1M293.3 268.2h5.2M293.3 290.1h5.2M295.9 266.1V289.7M293.3 266.1h5.2M293.3 289.7h5.2M297.4 267.8V284.6M294.8 267.8h5.2M294.8 284.6h5.2M297.4 267.7V290.4M294.8 267.7h5.2M294.8 290.4h5.2M297.4 269.0V290.2M294.8 269.0h5.2M294.8 290.2h5.2M298.7 271.0V288.5M296.1 271.0h5.2M296.1 288.5h5.2M298.7 267.7V288.0M296.1 267.7h5.2M296.1 288.0h5.2M298.7 267.6V286.2M296.1 267.6h5.2M296.1 286.2h5.2M299.8 269.2V290.8M297.2 269.2h5.2M297.2 290.8h5.2M299.8 270.2V288.9M297.2 270.2h5.2M297.2 288.9h5.2M299.8 268.2V286.5M297.2 268.2h5.2M297.2 286.5h5.2M301.4 268.8V289.5M298.8 268.8h5.2M298.8 289.5h5.2M301.4 269.7V287.3M298.8 269.7h5.2M298.8 287.3h5.2M301.4 270.5V288.0M298.8 270.5h5.2M298.8 288.0h5.2M304.2 270.5V290.9M301.6 270.5h5.2M301.6 290.9h5.2M304.2 270.3V286.5M301.6 270.3h5.2M301.6 286.5h5.2M304.2 273.1V292.1M301.6 273.1h5.2M301.6 292.1h5.2M306.0 274.0V290.1M303.4 274.0h5.2M303.4 290.1h5.2M306.0 271.1V288.6M303.4 271.1h5.2M303.4 288.6h5.2M306.0 271.9V291.7M303.4 271.9h5.2M303.4 291.7h5.2M308.1 274.7V289.2M305.5 274.7h5.2M305.5 289.2h5.2M308.1 273.2V290.2M305.5 273.2h5.2M305.5 290.2h5.2M308.1 272.8V289.6M305.5 272.8h5.2M305.5 289.6h5.2M310.4 274.4V290.3M307.8 274.4h5.2M307.8 290.3h5.2M310.4 273.8V291.3M307.8 273.8h5.2M307.8 291.3h5.2M310.4 274.3V290.9M307.8 274.3h5.2M307.8 290.9h5.2M312.6 277.4V292.1M310.0 277.4h5.2M310.0 292.1h5.2M312.6 274.5V291.9M310.0 274.5h5.2M310.0 291.9h5.2M312.6 276.5V292.2M310.0 276.5h5.2M310.0 292.2h5.2M314.8 278.2V291.2M312.2 278.2h5.2M312.2 291.2h5.2M314.8 277.7V290.9M312.2 277.7h5.2M312.2 290.9h5.2M314.8 276.0V287.8M312.2 276.0h5.2M312.2 287.8h5.2M317.2 277.3V289.0M314.6 277.3h5.2M314.6 289.0h5.2M317.2 277.1V292.5M314.6 277.1h5.2M314.6 292.5h5.2M317.2 276.9V289.7M314.6 276.9h5.2M314.6 289.7h5.2M319.7 277.8V292.7M317.1 277.8h5.2M317.1 292.7h5.2M319.7 278.6V291.1M317.1 278.6h5.2M317.1 291.1h5.2M319.7 279.5V292.9M317.1 279.5h5.2M317.1 292.9h5.2M321.7 278.7V289.1M319.1 278.7h5.2M319.1 289.1h5.2M321.7 281.3V291.4M319.1 281.3h5.2M319.1 291.4h5.2M321.7 280.5V290.6M319.1 280.5h5.2M319.1 290.6h5.2M324.1 280.3V293.2M321.5 280.3h5.2M321.5 293.2h5.2M324.1 279.6V292.5M321.5 279.6h5.2M321.5 292.5h5.2M324.1 279.0V290.9M321.5 279.0h5.2M321.5 290.9h5.2M326.4 280.6V291.7M323.8 280.6h5.2M323.8 291.7h5.2M326.4 280.3V294.2M323.8 280.3h5.2M323.8 294.2h5.2M326.4 280.4V293.5M323.8 280.4h5.2M323.8 293.5h5.2M328.4 281.5V294.0M325.8 281.5h5.2M325.8 294.0h5.2M328.4 281.4V293.4M325.8 281.4h5.2M325.8 293.4h5.2M328.4 281.4V294.6M325.8 281.4h5.2M325.8 294.6h5.2M330.5 281.9V293.0M327.9 281.9h5.2M327.9 293.0h5.2M330.5 282.7V296.3M327.9 282.7h5.2M327.9 296.3h5.2M330.5 282.5V293.5M327.9 282.5h5.2M327.9 293.5h5.2M334.8 284.1V296.1M332.2 284.1h5.2M332.2 296.1h5.2M334.8 284.1V294.7M332.2 284.1h5.2M332.2 294.7h5.2M334.8 284.6V295.3M332.2 284.6h5.2M332.2 295.3h5.2M339.1 284.2V298.2M336.5 284.2h5.2M336.5 298.2h5.2M339.1 284.8V297.4M336.5 284.8h5.2M336.5 297.4h5.2M339.1 284.9V298.1M336.5 284.9h5.2M336.5 298.1h5.2M342.6 286.7V297.9M340.0 286.7h5.2M340.0 297.9h5.2M342.6 285.6V298.4M340.0 285.6h5.2M340.0 298.4h5.2M342.6 286.7V297.4M340.0 286.7h5.2M340.0 297.4h5.2M346.8 288.1V298.3M344.2 288.1h5.2M344.2 298.3h5.2M346.8 287.7V298.1M344.2 287.7h5.2M344.2 298.1h5.2M346.8 287.4V298.3M344.2 287.4h5.2M344.2 298.3h5.2M351.0 288.0V296.9M348.4 288.0h5.2M348.4 296.9h5.2M351.0 286.7V296.7M348.4 286.7h5.2M348.4 296.7h5.2M351.0 287.2V295.8M348.4 287.2h5.2M348.4 295.8h5.2M355.3 288.3V299.4M352.7 288.3h5.2M352.7 299.4h5.2M355.3 288.9V299.3M352.7 288.9h5.2M352.7 299.3h5.2M355.3 287.9V298.8M352.7 287.9h5.2M352.7 298.8h5.2M359.5 288.5V297.4M356.9 288.5h5.2M356.9 297.4h5.2M359.5 288.9V299.2M356.9 288.9h5.2M356.9 299.2h5.2M359.5 287.8V299.7M356.9 287.8h5.2M356.9 299.7h5.2M363.4 289.1V298.8M360.8 289.1h5.2M360.8 298.8h5.2M363.4 290.5V300.5M360.8 290.5h5.2M360.8 300.5h5.2M363.4 288.6V300.1M360.8 288.6h5.2M360.8 300.1h5.2M367.5 288.7V298.2M364.9 288.7h5.2M364.9 298.2h5.2M367.5 290.7V299.6M364.9 290.7h5.2M364.9 299.6h5.2M367.5 289.4V300.4M364.9 289.4h5.2M364.9 300.4h5.2M371.5 289.3V299.9M368.9 289.3h5.2M368.9 299.9h5.2M371.5 289.4V300.6M368.9 289.4h5.2M368.9 300.6h5.2M371.5 289.6V300.8M368.9 289.6h5.2M368.9 300.8h5.2M375.7 290.0V301.3M373.1 290.0h5.2M373.1 301.3h5.2M375.7 289.3V297.1M373.1 289.3h5.2M373.1 297.1h5.2M375.7 290.3V300.7M373.1 290.3h5.2M373.1 300.7h5.2M380.7 290.8V301.2M378.1 290.8h5.2M378.1 301.2h5.2M380.7 290.8V301.1M378.1 290.8h5.2M378.1 301.1h5.2M380.7 290.5V301.0M378.1 290.5h5.2M378.1 301.0h5.2M384.6 290.5V300.1M382.0 290.5h5.2M382.0 300.1h5.2M384.6 290.2V301.5M382.0 290.2h5.2M382.0 301.5h5.2M384.6 290.9V299.9M382.0 290.9h5.2M382.0 299.9h5.2M388.6 290.4V300.3M386.0 290.4h5.2M386.0 300.3h5.2M388.6 290.2V299.1M386.0 290.2h5.2M386.0 299.1h5.2M388.6 290.6V302.0M386.0 290.6h5.2M386.0 302.0h5.2M392.4 290.4V299.3M389.8 290.4h5.2M389.8 299.3h5.2M392.4 290.4V299.8M389.8 290.4h5.2M389.8 299.8h5.2M392.4 291.0V301.7M389.8 291.0h5.2M389.8 301.7h5.2M397.4 291.3V301.3M394.8 291.3h5.2M394.8 301.3h5.2M397.4 291.4V300.9M394.8 291.4h5.2M394.8 300.9h5.2M397.4 290.6V301.1M394.8 290.6h5.2M394.8 301.1h5.2M401.7 291.0V299.7M399.1 291.0h5.2M399.1 299.7h5.2M401.7 291.5V301.8M399.1 291.5h5.2M399.1 301.8h5.2M401.7 292.2V301.7M399.1 292.2h5.2M399.1 301.7h5.2M406.1 292.8V301.7M403.5 292.8h5.2M403.5 301.7h5.2M406.1 292.9V301.2M403.5 292.9h5.2M403.5 301.2h5.2M406.1 291.3V301.7M403.5 291.3h5.2M403.5 301.7h5.2M409.8 291.8V301.8M407.2 291.8h5.2M407.2 301.8h5.2M409.8 291.3V301.6M407.2 291.3h5.2M407.2 301.6h5.2M409.8 291.6V300.4M407.2 291.6h5.2M407.2 300.4h5.2M79.7 65.5V150.0M77.1 65.5h5.2M87.1 65.0V155.0M84.5 65.0h5.2M92.4 75.0V160.0M89.8 75.0h5.2"/><polygon points="192.4,208.7 196,209.2900562509832 200,212.5371630777445 204,215.66275855762822 208,218.67128878777677 212,221.56719986533224 216,224.3549378874367 220,227.03894895123247 224,229.62367915386156 228,232.1135745924661 232,234.51308136418842 236,236.8266455661704 240,239.05871329555433 244,241.21373064948236 248,243.29614372509675 252,245.31039861953943 256,247.26094142995262 260,249.1522182534786 264,250.1886751872593 268,251.974758328437 272,253.7149137741538 276,255.41358762155195 280,257.0752259677735 284,258.7042749099606 288,260.3051805452554 292,261.88238897080004 296,263.4403462837367 300,264.98349858120747 304,266.51629196035464 308,268.04317251832043 312,269.56858635224654 316,271.09697955927555 320,272.63279823654926 324,274.18048848121026 328,275.74449639040034 335,277.5 348,281.5 361,286 369,290 374,292 374,293 368,292 355,289 340,286 330,283 310,278.5 295,273.5 285,271 271,266.5 258,261.5 245,255 233,250.5 225,247.5 214.6,243 206,238.5 196,233 192,224" fill="#4b0082"/><g fill="#4b0082"><rect x="264.4" y="249.5" width="5.2" height="5.2"/><rect x="267.4" y="250.9" width="5.2" height="5.2"/><rect x="270.4" y="252.1" width="5.2" height="5.2"/><rect x="273.4" y="253.4" width="5.2" height="5.2"/><rect x="276.4" y="254.7" width="5.2" height="5.2"/><rect x="279.4" y="255.9" width="5.2" height="5.2"/><rect x="295.4" y="262.2" width="5.2" height="5.2"/><rect x="298.4" y="263.4" width="5.2" height="5.2"/><rect x="301.4" y="264.5" width="5.2" height="5.2"/><rect x="223.7" y="229.4" width="5.2" height="5.2"/><rect x="301.9" y="266.1" width="5.2" height="5.2"/><rect x="252.9" y="247.4" width="5.2" height="5.2"/><rect x="303.1" y="265.2" width="5.2" height="5.2"/><rect x="263.2" y="250.9" width="5.2" height="5.2"/><rect x="244.7" y="242.6" width="5.2" height="5.2"/><rect x="191.1" y="207.6" width="5.2" height="5.2"/><rect x="339.5" y="279.0" width="5.2" height="5.2"/><rect x="308.7" y="267.7" width="5.2" height="5.2"/><rect x="278.5" y="256.8" width="5.2" height="5.2"/><rect x="237.5" y="238.6" width="5.2" height="5.2"/><rect x="284.5" y="260.3" width="5.2" height="5.2"/><rect x="292.1" y="261.9" width="5.2" height="5.2"/><rect x="211.9" y="221.6" width="5.2" height="5.2"/><rect x="324.8" y="273.7" width="5.2" height="5.2"/><rect x="208.1" y="219.0" width="5.2" height="5.2"/><rect x="282.9" y="259.3" width="5.2" height="5.2"/><rect x="298.9" y="265.5" width="5.2" height="5.2"/><rect x="201.4" y="213.6" width="5.2" height="5.2"/><rect x="326.8" y="274.8" width="5.2" height="5.2"/><rect x="317.0" y="271.3" width="5.2" height="5.2"/><rect x="220.4" y="227.5" width="5.2" height="5.2"/><rect x="208.0" y="220.7" width="5.2" height="5.2"/><rect x="293.5" y="262.2" width="5.2" height="5.2"/><rect x="270.0" y="252.8" width="5.2" height="5.2"/><rect x="200.1" y="214.8" width="5.2" height="5.2"/><rect x="293.5" y="263.8" width="5.2" height="5.2"/><rect x="268.2" y="252.7" width="5.2" height="5.2"/><rect x="234.5" y="235.5" width="5.2" height="5.2"/><rect x="355.2" y="284.9" width="5.2" height="5.2"/><rect x="246.1" y="243.8" width="5.2" height="5.2"/><rect x="334.8" y="276.9" width="5.2" height="5.2"/><rect x="297.1" y="265.1" width="5.2" height="5.2"/><rect x="278.1" y="257.6" width="5.2" height="5.2"/><rect x="233.4" y="235.7" width="5.2" height="5.2"/><rect x="317.6" y="271.2" width="5.2" height="5.2"/><rect x="245.1" y="243.2" width="5.2" height="5.2"/><rect x="276.1" y="256.4" width="5.2" height="5.2"/><rect x="233.5" y="235.2" width="5.2" height="5.2"/><rect x="253.8" y="245.8" width="5.2" height="5.2"/><rect x="362.4" y="286.6" width="5.2" height="5.2"/><rect x="289.8" y="260.2" width="5.2" height="5.2"/><rect x="284.9" y="259.0" width="5.2" height="5.2"/><rect x="261.8" y="248.4" width="5.2" height="5.2"/><rect x="212.2" y="223.5" width="5.2" height="5.2"/><rect x="252.6" y="245.4" width="5.2" height="5.2"/><rect x="224.2" y="230.0" width="5.2" height="5.2"/><rect x="232.4" y="234.2" width="5.2" height="5.2"/><rect x="308.0" y="267.8" width="5.2" height="5.2"/><rect x="218.0" y="227.1" width="5.2" height="5.2"/><rect x="206.8" y="218.3" width="5.2" height="5.2"/><rect x="338.2" y="277.5" width="5.2" height="5.2"/><rect x="268.9" y="253.5" width="5.2" height="5.2"/><rect x="332.9" y="275.9" width="5.2" height="5.2"/><rect x="252.9" y="246.7" width="5.2" height="5.2"/><rect x="257.1" y="249.3" width="5.2" height="5.2"/><rect x="227.2" y="233.5" width="5.2" height="5.2"/><rect x="279.8" y="256.5" width="5.2" height="5.2"/><rect x="270.5" y="252.4" width="5.2" height="5.2"/><rect x="315.4" y="270.4" width="5.2" height="5.2"/><rect x="349.6" y="282.3" width="5.2" height="5.2"/><rect x="255.5" y="246.8" width="5.2" height="5.2"/><rect x="298.1" y="263.7" width="5.2" height="5.2"/><rect x="344.8" y="279.5" width="5.2" height="5.2"/><rect x="281.2" y="257.9" width="5.2" height="5.2"/><rect x="238.3" y="239.4" width="5.2" height="5.2"/><rect x="258.5" y="249.0" width="5.2" height="5.2"/><rect x="290.9" y="261.1" width="5.2" height="5.2"/><rect x="259.4" y="247.8" width="5.2" height="5.2"/><rect x="221.7" y="229.9" width="5.2" height="5.2"/><rect x="247.2" y="243.8" width="5.2" height="5.2"/><rect x="209.7" y="221.1" width="5.2" height="5.2"/><rect x="254.4" y="246.9" width="5.2" height="5.2"/><rect x="243.0" y="240.1" width="5.2" height="5.2"/><rect x="245.5" y="241.8" width="5.2" height="5.2"/><rect x="212.7" y="223.6" width="5.2" height="5.2"/><rect x="240.4" y="239.6" width="5.2" height="5.2"/><rect x="351.3" y="283.4" width="5.2" height="5.2"/><rect x="346.6" y="282.0" width="5.2" height="5.2"/><rect x="213.8" y="223.2" width="5.2" height="5.2"/><rect x="195.6" y="210.7" width="5.2" height="5.2"/><rect x="307.9" y="267.8" width="5.2" height="5.2"/><rect x="263.4" y="250.6" width="5.2" height="5.2"/><rect x="314.2" y="269.9" width="5.2" height="5.2"/><rect x="340.3" y="278.7" width="5.2" height="5.2"/><rect x="301.7" y="265.0" width="5.2" height="5.2"/><rect x="210.8" y="222.7" width="5.2" height="5.2"/><rect x="320.3" y="273.4" width="5.2" height="5.2"/><rect x="197.6" y="210.7" width="5.2" height="5.2"/><rect x="219.1" y="226.5" width="5.2" height="5.2"/><rect x="244.0" y="241.4" width="5.2" height="5.2"/><rect x="197.3" y="211.2" width="5.2" height="5.2"/><rect x="303.4" y="265.6" width="5.2" height="5.2"/><rect x="339.0" y="278.9" width="5.2" height="5.2"/><rect x="317.2" y="271.1" width="5.2" height="5.2"/><rect x="267.4" y="252.4" width="5.2" height="5.2"/><rect x="252.2" y="244.6" width="5.2" height="5.2"/><rect x="338.1" y="279.1" width="5.2" height="5.2"/><rect x="241.1" y="239.0" width="5.2" height="5.2"/><rect x="341.6" y="279.7" width="5.2" height="5.2"/><rect x="198.8" y="212.1" width="5.2" height="5.2"/><rect x="210.1" y="221.9" width="5.2" height="5.2"/><rect x="227.6" y="233.6" width="5.2" height="5.2"/><rect x="323.1" y="272.9" width="5.2" height="5.2"/><rect x="313.4" y="270.0" width="5.2" height="5.2"/><rect x="322.7" y="274.7" width="5.2" height="5.2"/><rect x="240.2" y="238.7" width="5.2" height="5.2"/><rect x="357.9" y="284.8" width="5.2" height="5.2"/><rect x="355.0" y="284.5" width="5.2" height="5.2"/><rect x="321.1" y="274.1" width="5.2" height="5.2"/><rect x="301.6" y="265.6" width="5.2" height="5.2"/><rect x="200.0" y="214.2" width="5.2" height="5.2"/><rect x="266.2" y="251.5" width="5.2" height="5.2"/><rect x="354.7" y="282.9" width="5.2" height="5.2"/><rect x="325.3" y="273.7" width="5.2" height="5.2"/><rect x="314.8" y="271.5" width="5.2" height="5.2"/><rect x="236.6" y="237.9" width="5.2" height="5.2"/><rect x="362.0" y="287.3" width="5.2" height="5.2"/><rect x="286.7" y="259.3" width="5.2" height="5.2"/><rect x="200.9" y="214.1" width="5.2" height="5.2"/></g><path fill="#fff" stroke="#0000ff" stroke-width="1.25" d="M74.2 127.8l2.65 2.65l-2.65 2.65l-2.65 -2.65zM77.2 125.1l2.65 2.65l-2.65 2.65l-2.65 -2.65zM80.3 118.5l2.65 2.65l-2.65 2.65l-2.65 -2.65zM83.6 116.4l2.65 2.65l-2.65 2.65l-2.65 -2.65zM86.8 114.0l2.65 2.65l-2.65 2.65l-2.65 -2.65zM90.3 111.4l2.65 2.65l-2.65 2.65l-2.65 -2.65zM93.7 114.8l2.65 2.65l-2.65 2.65l-2.65 -2.65zM97.3 118.0l2.65 2.65l-2.65 2.65l-2.65 -2.65zM101.0 122.3l2.65 2.65l-2.65 2.65l-2.65 -2.65zM103.7 124.0l2.65 2.65l-2.65 2.65l-2.65 -2.65zM106.0 125.9l2.65 2.65l-2.65 2.65l-2.65 -2.65zM109.1 129.7l2.65 2.65l-2.65 2.65l-2.65 -2.65zM111.9 133.5l2.65 2.65l-2.65 2.65l-2.65 -2.65zM117.9 141.5l2.65 2.65l-2.65 2.65l-2.65 -2.65zM120.7 145.5l2.65 2.65l-2.65 2.65l-2.65 -2.65zM122.8 147.1l2.65 2.65l-2.65 2.65l-2.65 -2.65zM127.6 154.1l2.65 2.65l-2.65 2.65l-2.65 -2.65zM130.4 158.4l2.65 2.65l-2.65 2.65l-2.65 -2.65zM135.2 169.3l2.65 2.65l-2.65 2.65l-2.65 -2.65zM136.9 172.1l2.65 2.65l-2.65 2.65l-2.65 -2.65zM139.3 174.5l2.65 2.65l-2.65 2.65l-2.65 -2.65zM141.7 179.4l2.65 2.65l-2.65 2.65l-2.65 -2.65zM143.8 182.1l2.65 2.65l-2.65 2.65l-2.65 -2.65zM146.1 184.2l2.65 2.65l-2.65 2.65l-2.65 -2.65zM148.8 186.5l2.65 2.65l-2.65 2.65l-2.65 -2.65zM151.4 190.3l2.65 2.65l-2.65 2.65l-2.65 -2.65zM154.2 192.7l2.65 2.65l-2.65 2.65l-2.65 -2.65zM156.9 193.1l2.65 2.65l-2.65 2.65l-2.65 -2.65zM159.3 194.9l2.65 2.65l-2.65 2.65l-2.65 -2.65zM162.0 195.9l2.65 2.65l-2.65 2.65l-2.65 -2.65zM167.9 198.2l2.65 2.65l-2.65 2.65l-2.65 -2.65zM170.5 201.1l2.65 2.65l-2.65 2.65l-2.65 -2.65zM173.7 203.5l2.65 2.65l-2.65 2.65l-2.65 -2.65zM176.6 206.6l2.65 2.65l-2.65 2.65l-2.65 -2.65zM179.2 209.4l2.65 2.65l-2.65 2.65l-2.65 -2.65zM182.2 213.9l2.65 2.65l-2.65 2.65l-2.65 -2.65zM184.9 214.7l2.65 2.65l-2.65 2.65l-2.65 -2.65zM187.7 216.2l2.65 2.65l-2.65 2.65l-2.65 -2.65zM190.5 218.3l2.65 2.65l-2.65 2.65l-2.65 -2.65zM193.8 222.3l2.65 2.65l-2.65 2.65l-2.65 -2.65zM196.9 226.7l2.65 2.65l-2.65 2.65l-2.65 -2.65zM199.6 228.4l2.65 2.65l-2.65 2.65l-2.65 -2.65zM202.9 230.0l2.65 2.65l-2.65 2.65l-2.65 -2.65zM206.5 232.2l2.65 2.65l-2.65 2.65l-2.65 -2.65zM213.2 236.5l2.65 2.65l-2.65 2.65l-2.65 -2.65zM216.4 238.5l2.65 2.65l-2.65 2.65l-2.65 -2.65zM220.1 239.7l2.65 2.65l-2.65 2.65l-2.65 -2.65zM223.8 241.5l2.65 2.65l-2.65 2.65l-2.65 -2.65zM227.1 244.4l2.65 2.65l-2.65 2.65l-2.65 -2.65zM230.2 246.0l2.65 2.65l-2.65 2.65l-2.65 -2.65zM233.3 246.9l2.65 2.65l-2.65 2.65l-2.65 -2.65zM237.0 248.4l2.65 2.65l-2.65 2.65l-2.65 -2.65zM240.8 248.7l2.65 2.65l-2.65 2.65l-2.65 -2.65zM244.6 250.1l2.65 2.65l-2.65 2.65l-2.65 -2.65zM247.8 252.5l2.65 2.65l-2.65 2.65l-2.65 -2.65zM251.6 254.9l2.65 2.65l-2.65 2.65l-2.65 -2.65zM255.0 257.1l2.65 2.65l-2.65 2.65l-2.65 -2.65zM258.3 258.3l2.65 2.65l-2.65 2.65l-2.65 -2.65zM261.7 259.9l2.65 2.65l-2.65 2.65l-2.65 -2.65zM265.8 260.0l2.65 2.65l-2.65 2.65l-2.65 -2.65zM269.1 261.6l2.65 2.65l-2.65 2.65l-2.65 -2.65zM272.3 263.6l2.65 2.65l-2.65 2.65l-2.65 -2.65zM275.9 265.1l2.65 2.65l-2.65 2.65l-2.65 -2.65zM280.1 266.3l2.65 2.65l-2.65 2.65l-2.65 -2.65zM283.9 268.3l2.65 2.65l-2.65 2.65l-2.65 -2.65zM287.2 269.2l2.65 2.65l-2.65 2.65l-2.65 -2.65zM291.1 270.2l2.65 2.65l-2.65 2.65l-2.65 -2.65zM294.3 270.8l2.65 2.65l-2.65 2.65l-2.65 -2.65zM298.6 272.8l2.65 2.65l-2.65 2.65l-2.65 -2.65zM302.6 272.4l2.65 2.65l-2.65 2.65l-2.65 -2.65zM306.9 273.5l2.65 2.65l-2.65 2.65l-2.65 -2.65zM311.1 275.2l2.65 2.65l-2.65 2.65l-2.65 -2.65zM315.0 277.2l2.65 2.65l-2.65 2.65l-2.65 -2.65zM318.5 275.7l2.65 2.65l-2.65 2.65l-2.65 -2.65zM322.8 276.8l2.65 2.65l-2.65 2.65l-2.65 -2.65zM326.5 278.6l2.65 2.65l-2.65 2.65l-2.65 -2.65zM330.1 279.7l2.65 2.65l-2.65 2.65l-2.65 -2.65zM78.6 125.7l2.65 2.65l-2.65 2.65l-2.65 -2.65zM85.5 118.0l2.65 2.65l-2.65 2.65l-2.65 -2.65zM88.8 115.5l2.65 2.65l-2.65 2.65l-2.65 -2.65zM92.6 117.5l2.65 2.65l-2.65 2.65l-2.65 -2.65zM96.1 119.5l2.65 2.65l-2.65 2.65l-2.65 -2.65zM99.2 125.8l2.65 2.65l-2.65 2.65l-2.65 -2.65zM101.7 126.9l2.65 2.65l-2.65 2.65l-2.65 -2.65zM104.4 131.2l2.65 2.65l-2.65 2.65l-2.65 -2.65zM107.1 131.3l2.65 2.65l-2.65 2.65l-2.65 -2.65zM109.9 134.4l2.65 2.65l-2.65 2.65l-2.65 -2.65zM113.4 139.8l2.65 2.65l-2.65 2.65l-2.65 -2.65zM116.4 144.0l2.65 2.65l-2.65 2.65l-2.65 -2.65zM119.1 147.5l2.65 2.65l-2.65 2.65l-2.65 -2.65zM121.7 152.6l2.65 2.65l-2.65 2.65l-2.65 -2.65zM123.7 154.7l2.65 2.65l-2.65 2.65l-2.65 -2.65zM126.3 159.2l2.65 2.65l-2.65 2.65l-2.65 -2.65zM128.9 161.8l2.65 2.65l-2.65 2.65l-2.65 -2.65zM131.6 167.2l2.65 2.65l-2.65 2.65l-2.65 -2.65zM134.0 172.9l2.65 2.65l-2.65 2.65l-2.65 -2.65zM136.6 176.1l2.65 2.65l-2.65 2.65l-2.65 -2.65zM138.5 178.9l2.65 2.65l-2.65 2.65l-2.65 -2.65zM140.4 180.9l2.65 2.65l-2.65 2.65l-2.65 -2.65zM143.0 184.6l2.65 2.65l-2.65 2.65l-2.65 -2.65zM145.2 186.6l2.65 2.65l-2.65 2.65l-2.65 -2.65zM147.3 188.4l2.65 2.65l-2.65 2.65l-2.65 -2.65zM149.8 192.1l2.65 2.65l-2.65 2.65l-2.65 -2.65zM152.2 193.7l2.65 2.65l-2.65 2.65l-2.65 -2.65zM154.7 195.9l2.65 2.65l-2.65 2.65l-2.65 -2.65zM157.5 198.3l2.65 2.65l-2.65 2.65l-2.65 -2.65zM160.4 199.9l2.65 2.65l-2.65 2.65l-2.65 -2.65zM162.7 200.9l2.65 2.65l-2.65 2.65l-2.65 -2.65zM165.3 203.0l2.65 2.65l-2.65 2.65l-2.65 -2.65zM168.5 201.9l2.65 2.65l-2.65 2.65l-2.65 -2.65zM172.0 204.8l2.65 2.65l-2.65 2.65l-2.65 -2.65zM174.5 207.6l2.65 2.65l-2.65 2.65l-2.65 -2.65zM177.4 210.6l2.65 2.65l-2.65 2.65l-2.65 -2.65zM179.8 215.1l2.65 2.65l-2.65 2.65l-2.65 -2.65zM182.7 216.7l2.65 2.65l-2.65 2.65l-2.65 -2.65zM185.9 219.4l2.65 2.65l-2.65 2.65l-2.65 -2.65zM189.2 222.0l2.65 2.65l-2.65 2.65l-2.65 -2.65zM191.9 222.7l2.65 2.65l-2.65 2.65l-2.65 -2.65zM194.9 227.6l2.65 2.65l-2.65 2.65l-2.65 -2.65zM197.4 230.5l2.65 2.65l-2.65 2.65l-2.65 -2.65zM200.8 232.5l2.65 2.65l-2.65 2.65l-2.65 -2.65zM204.2 233.4l2.65 2.65l-2.65 2.65l-2.65 -2.65zM207.3 236.5l2.65 2.65l-2.65 2.65l-2.65 -2.65zM210.9 238.3l2.65 2.65l-2.65 2.65l-2.65 -2.65zM214.4 240.1l2.65 2.65l-2.65 2.65l-2.65 -2.65zM218.2 244.2l2.65 2.65l-2.65 2.65l-2.65 -2.65zM221.9 245.3l2.65 2.65l-2.65 2.65l-2.65 -2.65zM225.1 245.4l2.65 2.65l-2.65 2.65l-2.65 -2.65zM229.0 247.3l2.65 2.65l-2.65 2.65l-2.65 -2.65zM232.4 250.3l2.65 2.65l-2.65 2.65l-2.65 -2.65zM236.1 252.1l2.65 2.65l-2.65 2.65l-2.65 -2.65zM239.6 253.6l2.65 2.65l-2.65 2.65l-2.65 -2.65zM243.6 255.2l2.65 2.65l-2.65 2.65l-2.65 -2.65zM247.1 256.6l2.65 2.65l-2.65 2.65l-2.65 -2.65zM250.8 256.9l2.65 2.65l-2.65 2.65l-2.65 -2.65zM258.8 261.0l2.65 2.65l-2.65 2.65l-2.65 -2.65zM262.4 263.1l2.65 2.65l-2.65 2.65l-2.65 -2.65zM269.9 264.7l2.65 2.65l-2.65 2.65l-2.65 -2.65zM273.7 266.4l2.65 2.65l-2.65 2.65l-2.65 -2.65zM277.3 267.6l2.65 2.65l-2.65 2.65l-2.65 -2.65zM281.3 271.0l2.65 2.65l-2.65 2.65l-2.65 -2.65zM284.5 271.8l2.65 2.65l-2.65 2.65l-2.65 -2.65zM288.8 273.1l2.65 2.65l-2.65 2.65l-2.65 -2.65zM292.2 274.0l2.65 2.65l-2.65 2.65l-2.65 -2.65zM295.7 275.7l2.65 2.65l-2.65 2.65l-2.65 -2.65zM299.8 274.5l2.65 2.65l-2.65 2.65l-2.65 -2.65zM303.6 277.3l2.65 2.65l-2.65 2.65l-2.65 -2.65zM307.6 277.0l2.65 2.65l-2.65 2.65l-2.65 -2.65zM312.0 279.6l2.65 2.65l-2.65 2.65l-2.65 -2.65zM315.7 279.2l2.65 2.65l-2.65 2.65l-2.65 -2.65zM319.4 279.5l2.65 2.65l-2.65 2.65l-2.65 -2.65zM323.5 280.2l2.65 2.65l-2.65 2.65l-2.65 -2.65zM327.1 281.3l2.65 2.65l-2.65 2.65l-2.65 -2.65zM331.5 282.7l2.65 2.65l-2.65 2.65l-2.65 -2.65zM75.5 134.7l2.65 2.65l-2.65 2.65l-2.65 -2.65zM78.9 131.9l2.65 2.65l-2.65 2.65l-2.65 -2.65zM82.5 125.1l2.65 2.65l-2.65 2.65l-2.65 -2.65zM86.0 121.8l2.65 2.65l-2.65 2.65l-2.65 -2.65zM89.8 118.5l2.65 2.65l-2.65 2.65l-2.65 -2.65zM93.7 122.0l2.65 2.65l-2.65 2.65l-2.65 -2.65zM103.8 135.0l2.65 2.65l-2.65 2.65l-2.65 -2.65zM106.2 135.7l2.65 2.65l-2.65 2.65l-2.65 -2.65zM108.7 138.7l2.65 2.65l-2.65 2.65l-2.65 -2.65zM111.9 145.7l2.65 2.65l-2.65 2.65l-2.65 -2.65zM114.5 147.0l2.65 2.65l-2.65 2.65l-2.65 -2.65zM117.5 150.3l2.65 2.65l-2.65 2.65l-2.65 -2.65zM119.9 154.7l2.65 2.65l-2.65 2.65l-2.65 -2.65zM122.0 159.2l2.65 2.65l-2.65 2.65l-2.65 -2.65zM124.6 161.6l2.65 2.65l-2.65 2.65l-2.65 -2.65zM126.7 165.6l2.65 2.65l-2.65 2.65l-2.65 -2.65zM129.4 168.4l2.65 2.65l-2.65 2.65l-2.65 -2.65zM131.8 171.9l2.65 2.65l-2.65 2.65l-2.65 -2.65zM134.2 181.4l2.65 2.65l-2.65 2.65l-2.65 -2.65zM136.3 181.8l2.65 2.65l-2.65 2.65l-2.65 -2.65zM138.5 182.8l2.65 2.65l-2.65 2.65l-2.65 -2.65zM140.5 184.7l2.65 2.65l-2.65 2.65l-2.65 -2.65zM142.8 188.3l2.65 2.65l-2.65 2.65l-2.65 -2.65zM145.0 190.0l2.65 2.65l-2.65 2.65l-2.65 -2.65zM147.5 194.0l2.65 2.65l-2.65 2.65l-2.65 -2.65zM150.2 197.7l2.65 2.65l-2.65 2.65l-2.65 -2.65zM152.9 198.8l2.65 2.65l-2.65 2.65l-2.65 -2.65zM155.6 202.4l2.65 2.65l-2.65 2.65l-2.65 -2.65zM158.1 201.4l2.65 2.65l-2.65 2.65l-2.65 -2.65zM161.1 203.4l2.65 2.65l-2.65 2.65l-2.65 -2.65zM164.0 205.3l2.65 2.65l-2.65 2.65l-2.65 -2.65zM166.7 205.2l2.65 2.65l-2.65 2.65l-2.65 -2.65zM169.4 207.8l2.65 2.65l-2.65 2.65l-2.65 -2.65zM172.8 210.0l2.65 2.65l-2.65 2.65l-2.65 -2.65zM175.5 213.8l2.65 2.65l-2.65 2.65l-2.65 -2.65zM181.0 221.1l2.65 2.65l-2.65 2.65l-2.65 -2.65zM183.9 223.6l2.65 2.65l-2.65 2.65l-2.65 -2.65zM186.8 223.9l2.65 2.65l-2.65 2.65l-2.65 -2.65zM190.0 224.9l2.65 2.65l-2.65 2.65l-2.65 -2.65zM193.1 228.8l2.65 2.65l-2.65 2.65l-2.65 -2.65zM195.9 234.4l2.65 2.65l-2.65 2.65l-2.65 -2.65zM199.1 235.3l2.65 2.65l-2.65 2.65l-2.65 -2.65zM202.5 238.1l2.65 2.65l-2.65 2.65l-2.65 -2.65zM206.1 238.7l2.65 2.65l-2.65 2.65l-2.65 -2.65zM210.2 241.3l2.65 2.65l-2.65 2.65l-2.65 -2.65zM213.8 243.7l2.65 2.65l-2.65 2.65l-2.65 -2.65zM217.1 247.3l2.65 2.65l-2.65 2.65l-2.65 -2.65zM220.9 249.0l2.65 2.65l-2.65 2.65l-2.65 -2.65zM224.9 248.9l2.65 2.65l-2.65 2.65l-2.65 -2.65zM228.9 252.8l2.65 2.65l-2.65 2.65l-2.65 -2.65zM232.0 253.1l2.65 2.65l-2.65 2.65l-2.65 -2.65zM235.5 255.9l2.65 2.65l-2.65 2.65l-2.65 -2.65zM239.1 255.7l2.65 2.65l-2.65 2.65l-2.65 -2.65zM243.4 258.9l2.65 2.65l-2.65 2.65l-2.65 -2.65zM247.1 260.4l2.65 2.65l-2.65 2.65l-2.65 -2.65zM250.4 261.3l2.65 2.65l-2.65 2.65l-2.65 -2.65zM254.2 261.5l2.65 2.65l-2.65 2.65l-2.65 -2.65zM261.2 264.5l2.65 2.65l-2.65 2.65l-2.65 -2.65zM264.7 268.1l2.65 2.65l-2.65 2.65l-2.65 -2.65zM268.3 267.9l2.65 2.65l-2.65 2.65l-2.65 -2.65zM271.6 269.8l2.65 2.65l-2.65 2.65l-2.65 -2.65zM275.0 270.7l2.65 2.65l-2.65 2.65l-2.65 -2.65zM278.9 272.2l2.65 2.65l-2.65 2.65l-2.65 -2.65zM282.6 273.7l2.65 2.65l-2.65 2.65l-2.65 -2.65zM286.1 275.4l2.65 2.65l-2.65 2.65l-2.65 -2.65zM290.1 274.9l2.65 2.65l-2.65 2.65l-2.65 -2.65zM293.8 278.1l2.65 2.65l-2.65 2.65l-2.65 -2.65zM298.1 278.7l2.65 2.65l-2.65 2.65l-2.65 -2.65zM302.1 278.6l2.65 2.65l-2.65 2.65l-2.65 -2.65zM306.4 279.5l2.65 2.65l-2.65 2.65l-2.65 -2.65zM310.3 283.6l2.65 2.65l-2.65 2.65l-2.65 -2.65zM313.7 283.1l2.65 2.65l-2.65 2.65l-2.65 -2.65zM317.6 284.0l2.65 2.65l-2.65 2.65l-2.65 -2.65zM321.6 284.5l2.65 2.65l-2.65 2.65l-2.65 -2.65zM325.5 283.9l2.65 2.65l-2.65 2.65l-2.65 -2.65zM329.7 284.9l2.65 2.65l-2.65 2.65l-2.65 -2.65zM75.0 139.5l2.65 2.65l-2.65 2.65l-2.65 -2.65zM78.8 134.8l2.65 2.65l-2.65 2.65l-2.65 -2.65zM81.7 134.0l2.65 2.65l-2.65 2.65l-2.65 -2.65zM84.6 125.6l2.65 2.65l-2.65 2.65l-2.65 -2.65zM87.4 125.0l2.65 2.65l-2.65 2.65l-2.65 -2.65zM90.8 123.9l2.65 2.65l-2.65 2.65l-2.65 -2.65zM94.1 127.6l2.65 2.65l-2.65 2.65l-2.65 -2.65zM97.9 134.8l2.65 2.65l-2.65 2.65l-2.65 -2.65zM104.3 141.8l2.65 2.65l-2.65 2.65l-2.65 -2.65zM106.9 141.6l2.65 2.65l-2.65 2.65l-2.65 -2.65zM109.9 145.1l2.65 2.65l-2.65 2.65l-2.65 -2.65zM112.5 150.5l2.65 2.65l-2.65 2.65l-2.65 -2.65zM115.8 155.4l2.65 2.65l-2.65 2.65l-2.65 -2.65zM118.3 157.0l2.65 2.65l-2.65 2.65l-2.65 -2.65zM120.7 161.7l2.65 2.65l-2.65 2.65l-2.65 -2.65zM123.2 166.0l2.65 2.65l-2.65 2.65l-2.65 -2.65zM125.4 171.4l2.65 2.65l-2.65 2.65l-2.65 -2.65zM127.4 172.9l2.65 2.65l-2.65 2.65l-2.65 -2.65zM129.9 176.4l2.65 2.65l-2.65 2.65l-2.65 -2.65zM132.1 180.0l2.65 2.65l-2.65 2.65l-2.65 -2.65zM134.6 188.6l2.65 2.65l-2.65 2.65l-2.65 -2.65zM136.9 187.4l2.65 2.65l-2.65 2.65l-2.65 -2.65zM139.2 187.6l2.65 2.65l-2.65 2.65l-2.65 -2.65zM141.6 190.1l2.65 2.65l-2.65 2.65l-2.65 -2.65zM143.6 193.9l2.65 2.65l-2.65 2.65l-2.65 -2.65zM146.2 196.9l2.65 2.65l-2.65 2.65l-2.65 -2.65zM148.6 199.4l2.65 2.65l-2.65 2.65l-2.65 -2.65zM151.0 200.5l2.65 2.65l-2.65 2.65l-2.65 -2.65zM153.4 204.5l2.65 2.65l-2.65 2.65l-2.65 -2.65zM155.8 204.8l2.65 2.65l-2.65 2.65l-2.65 -2.65zM158.8 206.0l2.65 2.65l-2.65 2.65l-2.65 -2.65zM161.2 209.9l2.65 2.65l-2.65 2.65l-2.65 -2.65zM163.5 208.2l2.65 2.65l-2.65 2.65l-2.65 -2.65zM165.9 209.8l2.65 2.65l-2.65 2.65l-2.65 -2.65zM168.6 210.5l2.65 2.65l-2.65 2.65l-2.65 -2.65zM171.8 211.6l2.65 2.65l-2.65 2.65l-2.65 -2.65zM174.5 217.4l2.65 2.65l-2.65 2.65l-2.65 -2.65zM177.5 220.3l2.65 2.65l-2.65 2.65l-2.65 -2.65zM179.8 223.1l2.65 2.65l-2.65 2.65l-2.65 -2.65zM182.3 225.5l2.65 2.65l-2.65 2.65l-2.65 -2.65zM185.1 226.0l2.65 2.65l-2.65 2.65l-2.65 -2.65zM188.2 226.6l2.65 2.65l-2.65 2.65l-2.65 -2.65zM190.9 232.2l2.65 2.65l-2.65 2.65l-2.65 -2.65zM194.1 233.9l2.65 2.65l-2.65 2.65l-2.65 -2.65zM196.8 239.5l2.65 2.65l-2.65 2.65l-2.65 -2.65zM200.3 239.6l2.65 2.65l-2.65 2.65l-2.65 -2.65zM204.2 242.6l2.65 2.65l-2.65 2.65l-2.65 -2.65zM207.4 242.9l2.65 2.65l-2.65 2.65l-2.65 -2.65zM211.4 246.2l2.65 2.65l-2.65 2.65l-2.65 -2.65zM215.5 248.7l2.65 2.65l-2.65 2.65l-2.65 -2.65zM219.7 251.2l2.65 2.65l-2.65 2.65l-2.65 -2.65zM223.5 252.2l2.65 2.65l-2.65 2.65l-2.65 -2.65zM227.0 254.3l2.65 2.65l-2.65 2.65l-2.65 -2.65zM230.2 257.3l2.65 2.65l-2.65 2.65l-2.65 -2.65zM233.3 258.3l2.65 2.65l-2.65 2.65l-2.65 -2.65zM237.0 260.3l2.65 2.65l-2.65 2.65l-2.65 -2.65zM240.7 260.0l2.65 2.65l-2.65 2.65l-2.65 -2.65zM244.0 262.8l2.65 2.65l-2.65 2.65l-2.65 -2.65zM247.8 263.3l2.65 2.65l-2.65 2.65l-2.65 -2.65zM251.7 263.9l2.65 2.65l-2.65 2.65l-2.65 -2.65zM256.0 265.4l2.65 2.65l-2.65 2.65l-2.65 -2.65zM260.2 266.9l2.65 2.65l-2.65 2.65l-2.65 -2.65zM292.6 279.5l2.65 2.65l-2.65 2.65l-2.65 -2.65zM296.0 280.7l2.65 2.65l-2.65 2.65l-2.65 -2.65zM299.4 280.8l2.65 2.65l-2.65 2.65l-2.65 -2.65zM307.7 282.7l2.65 2.65l-2.65 2.65l-2.65 -2.65zM84.6 127.6l2.65 2.65l-2.65 2.65l-2.65 -2.65zM87.7 128.7l2.65 2.65l-2.65 2.65l-2.65 -2.65zM91.4 128.6l2.65 2.65l-2.65 2.65l-2.65 -2.65zM94.9 133.4l2.65 2.65l-2.65 2.65l-2.65 -2.65zM98.4 140.1l2.65 2.65l-2.65 2.65l-2.65 -2.65zM101.3 144.0l2.65 2.65l-2.65 2.65l-2.65 -2.65zM104.4 147.1l2.65 2.65l-2.65 2.65l-2.65 -2.65zM107.1 147.1l2.65 2.65l-2.65 2.65l-2.65 -2.65zM109.8 150.4l2.65 2.65l-2.65 2.65l-2.65 -2.65zM112.5 156.2l2.65 2.65l-2.65 2.65l-2.65 -2.65zM115.3 158.7l2.65 2.65l-2.65 2.65l-2.65 -2.65zM118.4 165.1l2.65 2.65l-2.65 2.65l-2.65 -2.65zM121.0 167.9l2.65 2.65l-2.65 2.65l-2.65 -2.65zM123.7 174.1l2.65 2.65l-2.65 2.65l-2.65 -2.65zM125.8 178.3l2.65 2.65l-2.65 2.65l-2.65 -2.65zM128.4 180.1l2.65 2.65l-2.65 2.65l-2.65 -2.65zM130.8 182.7l2.65 2.65l-2.65 2.65l-2.65 -2.65zM135.8 189.3l2.65 2.65l-2.65 2.65l-2.65 -2.65zM138.1 193.2l2.65 2.65l-2.65 2.65l-2.65 -2.65zM140.5 195.0l2.65 2.65l-2.65 2.65l-2.65 -2.65zM142.7 197.6l2.65 2.65l-2.65 2.65l-2.65 -2.65zM145.3 199.4l2.65 2.65l-2.65 2.65l-2.65 -2.65zM147.7 203.3l2.65 2.65l-2.65 2.65l-2.65 -2.65zM150.6 205.3l2.65 2.65l-2.65 2.65l-2.65 -2.65zM153.5 207.0l2.65 2.65l-2.65 2.65l-2.65 -2.65zM156.1 209.9l2.65 2.65l-2.65 2.65l-2.65 -2.65zM159.1 211.0l2.65 2.65l-2.65 2.65l-2.65 -2.65zM161.6 214.4l2.65 2.65l-2.65 2.65l-2.65 -2.65zM164.3 215.1l2.65 2.65l-2.65 2.65l-2.65 -2.65zM167.1 212.2l2.65 2.65l-2.65 2.65l-2.65 -2.65zM170.4 214.7l2.65 2.65l-2.65 2.65l-2.65 -2.65zM176.5 221.1l2.65 2.65l-2.65 2.65l-2.65 -2.65zM179.4 227.2l2.65 2.65l-2.65 2.65l-2.65 -2.65zM182.1 229.0l2.65 2.65l-2.65 2.65l-2.65 -2.65zM184.8 229.5l2.65 2.65l-2.65 2.65l-2.65 -2.65zM187.6 229.6l2.65 2.65l-2.65 2.65l-2.65 -2.65zM190.8 235.1l2.65 2.65l-2.65 2.65l-2.65 -2.65zM193.9 236.6l2.65 2.65l-2.65 2.65l-2.65 -2.65zM196.3 243.6l2.65 2.65l-2.65 2.65l-2.65 -2.65zM199.2 245.2l2.65 2.65l-2.65 2.65l-2.65 -2.65zM202.3 246.4l2.65 2.65l-2.65 2.65l-2.65 -2.65zM206.3 247.0l2.65 2.65l-2.65 2.65l-2.65 -2.65zM210.4 248.5l2.65 2.65l-2.65 2.65l-2.65 -2.65zM213.7 250.3l2.65 2.65l-2.65 2.65l-2.65 -2.65zM85.6 133.0l2.65 2.65l-2.65 2.65l-2.65 -2.65zM89.3 128.3l2.65 2.65l-2.65 2.65l-2.65 -2.65zM92.2 135.6l2.65 2.65l-2.65 2.65l-2.65 -2.65zM95.2 137.1l2.65 2.65l-2.65 2.65l-2.65 -2.65zM106.9 151.6l2.65 2.65l-2.65 2.65l-2.65 -2.65zM109.6 154.6l2.65 2.65l-2.65 2.65l-2.65 -2.65zM158.3 212.5l2.65 2.65l-2.65 2.65l-2.65 -2.65zM160.5 216.0l2.65 2.65l-2.65 2.65l-2.65 -2.65zM163.4 218.1l2.65 2.65l-2.65 2.65l-2.65 -2.65zM166.0 217.3l2.65 2.65l-2.65 2.65l-2.65 -2.65zM168.8 217.7l2.65 2.65l-2.65 2.65l-2.65 -2.65zM171.7 219.5l2.65 2.65l-2.65 2.65l-2.65 -2.65zM175.0 224.5l2.65 2.65l-2.65 2.65l-2.65 -2.65zM178.1 227.2l2.65 2.65l-2.65 2.65l-2.65 -2.65zM180.9 233.4l2.65 2.65l-2.65 2.65l-2.65 -2.65zM183.4 235.0l2.65 2.65l-2.65 2.65l-2.65 -2.65zM186.3 233.6l2.65 2.65l-2.65 2.65l-2.65 -2.65zM189.1 234.7l2.65 2.65l-2.65 2.65l-2.65 -2.65zM192.1 239.7l2.65 2.65l-2.65 2.65l-2.65 -2.65zM194.7 242.7l2.65 2.65l-2.65 2.65l-2.65 -2.65zM89.4 132.4l2.65 2.65l-2.65 2.65l-2.65 -2.65zM162.6 219.4l2.65 2.65l-2.65 2.65l-2.65 -2.65zM164.9 223.2l2.65 2.65l-2.65 2.65l-2.65 -2.65zM167.4 220.9l2.65 2.65l-2.65 2.65l-2.65 -2.65zM170.3 221.4l2.65 2.65l-2.65 2.65l-2.65 -2.65zM176.3 229.1l2.65 2.65l-2.65 2.65l-2.65 -2.65zM179.2 231.5l2.65 2.65l-2.65 2.65l-2.65 -2.65zM187.7 236.9l2.65 2.65l-2.65 2.65l-2.65 -2.65zM167.0 224.0l2.65 2.65l-2.65 2.65l-2.65 -2.65zM169.7 224.8l2.65 2.65l-2.65 2.65l-2.65 -2.65zM332.0 284.1l2.65 2.65l-2.65 2.65l-2.65 -2.65zM335.3 285.0l2.65 2.65l-2.65 2.65l-2.65 -2.65zM336.0 290.2l2.65 2.65l-2.65 2.65l-2.65 -2.65zM338.7 285.9l2.65 2.65l-2.65 2.65l-2.65 -2.65zM341.8 286.1l2.65 2.65l-2.65 2.65l-2.65 -2.65zM343.9 291.7l2.65 2.65l-2.65 2.65l-2.65 -2.65zM345.3 286.1l2.65 2.65l-2.65 2.65l-2.65 -2.65zM348.2 287.1l2.65 2.65l-2.65 2.65l-2.65 -2.65zM349.9 292.2l2.65 2.65l-2.65 2.65l-2.65 -2.65zM351.6 286.1l2.65 2.65l-2.65 2.65l-2.65 -2.65zM354.7 287.9l2.65 2.65l-2.65 2.65l-2.65 -2.65zM355.8 292.1l2.65 2.65l-2.65 2.65l-2.65 -2.65zM357.7 287.2l2.65 2.65l-2.65 2.65l-2.65 -2.65zM361.3 288.3l2.65 2.65l-2.65 2.65l-2.65 -2.65zM361.6 292.8l2.65 2.65l-2.65 2.65l-2.65 -2.65zM364.7 288.5l2.65 2.65l-2.65 2.65l-2.65 -2.65zM367.5 287.8l2.65 2.65l-2.65 2.65l-2.65 -2.65zM369.3 293.5l2.65 2.65l-2.65 2.65l-2.65 -2.65zM371.3 289.3l2.65 2.65l-2.65 2.65l-2.65 -2.65zM374.2 288.3l2.65 2.65l-2.65 2.65l-2.65 -2.65zM374.8 293.7l2.65 2.65l-2.65 2.65l-2.65 -2.65zM377.2 290.1l2.65 2.65l-2.65 2.65l-2.65 -2.65zM380.2 289.9l2.65 2.65l-2.65 2.65l-2.65 -2.65zM381.7 294.1l2.65 2.65l-2.65 2.65l-2.65 -2.65zM383.9 290.3l2.65 2.65l-2.65 2.65l-2.65 -2.65zM387.7 290.0l2.65 2.65l-2.65 2.65l-2.65 -2.65zM388.4 294.2l2.65 2.65l-2.65 2.65l-2.65 -2.65zM390.6 289.9l2.65 2.65l-2.65 2.65l-2.65 -2.65zM394.0 294.4l2.65 2.65l-2.65 2.65l-2.65 -2.65zM397.0 293.7l2.65 2.65l-2.65 2.65l-2.65 -2.65zM400.0 293.7l2.65 2.65l-2.65 2.65l-2.65 -2.65zM403.0 294.2l2.65 2.65l-2.65 2.65l-2.65 -2.65zM406.0 293.9l2.65 2.65l-2.65 2.65l-2.65 -2.65zM409.0 294.0l2.65 2.65l-2.65 2.65l-2.65 -2.65zM80.1 102.9l2.65 2.65l-2.65 2.65l-2.65 -2.65zM81.7 105.9l2.65 2.65l-2.65 2.65l-2.65 -2.65zM87.2 101.8l2.65 2.65l-2.65 2.65l-2.65 -2.65zM78.6 114.5l2.65 2.65l-2.65 2.65l-2.65 -2.65zM75.4 123.8l2.65 2.65l-2.65 2.65l-2.65 -2.65z"/><path stroke="#f5c518" stroke-width="1.25" fill="none" d="M72.6 138.0V195.0M69.6 138.0h6M69.6 195.0h6M74.2 136.0V196.0M71.2 136.0h6M71.2 196.0h6M76.2 140.0V194.0M73.2 140.0h6M73.2 194.0h6M81.1 137.0V196.7M78.1 137.0h6M78.1 196.7h6M81.9 138.0V196.0M78.9 138.0h6M78.9 196.0h6M82.7 139.0V195.0M79.7 139.0h6M79.7 195.0h6M89.3 130.0V188.8M86.3 130.0h6M86.3 188.8h6M101.3 143.0V197.5M98.3 143.0h6M98.3 197.5h6M101.3 145.0V197.5M98.3 145.0h6M98.3 197.5h6M106.9 153.0V204.6M103.9 153.0h6M103.9 204.6h6M109.2 156.0V206.0M106.2 156.0h6M106.2 206.0h6M112.7 162.0V211.0M109.7 162.0h6M109.7 211.0h6M115.1 170.0V217.6M112.1 170.0h6M112.1 217.6h6M118.3 168.0V216.3M115.3 168.0h6M115.3 216.3h6M123.5 179.3V222.8M120.5 179.3h6M120.5 222.8h6M154.3 227.0V255.7M151.3 227.0h6M151.3 255.7h6M160.5 227.5V256.4M157.5 227.5h6M157.5 256.4h6M166.4 238.0V263.8M163.4 238.0h6M163.4 263.8h6M203.5 252.5V276.0M200.5 252.5h6M200.5 276.0h6M201.5 254.0V277.5M198.5 254.0h6M198.5 277.5h6M202.5 253.0V277.0M199.5 253.0h6M199.5 277.0h6M203.2 253.0V277.0M200.2 253.0h6M200.2 277.0h6"/><path d="M262 271.5L285 275.5L299 279L299 287L285 285.5L262 281Z" fill="#4b0a86"/><g fill="#ff0000" stroke="#4b0082" stroke-width="0.55"><circle cx="227.2" cy="276.1" r="2.9"/><circle cx="228.6" cy="276.8" r="2.9"/><circle cx="295.9" cy="291.8" r="2.9"/><circle cx="236.9" cy="277.8" r="2.9"/><circle cx="244.2" cy="277.5" r="2.9"/><circle cx="235.9" cy="279.3" r="2.9"/><circle cx="273.2" cy="286.9" r="2.9"/><circle cx="234.5" cy="277.7" r="2.9"/><circle cx="299.2" cy="292.7" r="2.9"/><circle cx="235.2" cy="276.0" r="2.9"/><circle cx="252.4" cy="281.6" r="2.9"/><circle cx="239.1" cy="278.0" r="2.9"/><circle cx="310.2" cy="293.4" r="2.9"/><circle cx="227.1" cy="273.9" r="2.9"/><circle cx="236.2" cy="277.9" r="2.9"/><circle cx="277.7" cy="288.1" r="2.9"/><circle cx="265.5" cy="284.5" r="2.9"/><circle cx="278.7" cy="288.7" r="2.9"/><circle cx="304.9" cy="293.3" r="2.9"/><circle cx="294.6" cy="292.1" r="2.9"/><circle cx="298.1" cy="292.5" r="2.9"/><circle cx="229.1" cy="276.3" r="2.9"/><circle cx="299.2" cy="292.4" r="2.9"/><circle cx="301.6" cy="292.6" r="2.9"/><circle cx="307.1" cy="293.3" r="2.9"/><circle cx="286.9" cy="289.3" r="2.9"/><circle cx="252.2" cy="278.5" r="2.9"/><circle cx="254.2" cy="277.2" r="2.9"/><circle cx="264.4" cy="286.4" r="2.9"/><circle cx="282.4" cy="290.2" r="2.9"/><circle cx="291.7" cy="291.5" r="2.9"/><circle cx="311.5" cy="293.4" r="2.9"/><circle cx="249.9" cy="277.1" r="2.9"/><circle cx="261.8" cy="281.4" r="2.9"/><circle cx="246.2" cy="281.2" r="2.9"/><circle cx="305.2" cy="293.1" r="2.9"/><circle cx="292.4" cy="291.6" r="2.9"/><circle cx="302.6" cy="293.1" r="2.9"/><circle cx="272.0" cy="286.0" r="2.9"/><circle cx="297.1" cy="292.0" r="2.9"/><circle cx="280.1" cy="288.2" r="2.9"/><circle cx="272.4" cy="288.1" r="2.9"/><circle cx="240.3" cy="277.7" r="2.9"/><circle cx="282.1" cy="289.1" r="2.9"/><circle cx="306.7" cy="293.2" r="2.9"/><circle cx="304.6" cy="293.3" r="2.9"/><circle cx="309.2" cy="293.3" r="2.9"/><circle cx="244.7" cy="276.5" r="2.9"/><circle cx="304.0" cy="292.8" r="2.9"/><circle cx="248.7" cy="280.4" r="2.9"/><circle cx="311.1" cy="293.4" r="2.9"/><circle cx="263.9" cy="285.1" r="2.9"/><circle cx="285.5" cy="290.3" r="2.9"/><circle cx="290.9" cy="290.3" r="2.9"/><circle cx="248.5" cy="275.0" r="2.9"/><circle cx="285.6" cy="288.8" r="2.9"/><circle cx="248.7" cy="282.3" r="2.9"/><circle cx="281.5" cy="289.1" r="2.9"/><circle cx="282.6" cy="289.3" r="2.9"/><circle cx="285.9" cy="289.2" r="2.9"/><circle cx="232.0" cy="274.2" r="2.9"/><circle cx="227.7" cy="274.9" r="2.9"/><circle cx="238.7" cy="275.0" r="2.9"/><circle cx="268.7" cy="287.3" r="2.9"/><circle cx="285.3" cy="288.9" r="2.9"/><circle cx="292.3" cy="290.6" r="2.9"/><circle cx="235.1" cy="275.6" r="2.9"/><circle cx="261.5" cy="284.4" r="2.9"/><circle cx="264.5" cy="285.4" r="2.9"/><circle cx="234.6" cy="278.7" r="2.9"/><circle cx="255.8" cy="282.8" r="2.9"/><circle cx="229.1" cy="276.9" r="2.9"/><circle cx="245.8" cy="280.9" r="2.9"/><circle cx="295.1" cy="291.9" r="2.9"/><circle cx="250.2" cy="275.4" r="2.9"/><circle cx="242.7" cy="280.7" r="2.9"/><circle cx="240.0" cy="278.5" r="2.9"/><circle cx="276.7" cy="288.3" r="2.9"/><circle cx="241.9" cy="275.3" r="2.9"/><circle cx="234.8" cy="279.1" r="2.9"/><circle cx="259.2" cy="283.2" r="2.9"/><circle cx="275.2" cy="287.0" r="2.9"/><circle cx="232.0" cy="274.0" r="2.9"/><circle cx="299.4" cy="292.3" r="2.9"/><circle cx="308.8" cy="293.3" r="2.9"/><circle cx="288.3" cy="289.4" r="2.9"/><circle cx="293.9" cy="291.1" r="2.9"/><circle cx="257.8" cy="281.7" r="2.9"/><circle cx="236.0" cy="275.5" r="2.9"/><circle cx="294.6" cy="291.3" r="2.9"/><circle cx="259.1" cy="283.8" r="2.9"/><circle cx="245.7" cy="275.9" r="2.9"/><circle cx="245.2" cy="277.3" r="2.9"/><circle cx="257.7" cy="282.4" r="2.9"/><circle cx="266.8" cy="286.5" r="2.9"/></g><g fill="#fff" stroke="#ff0000" stroke-width="2.2"><circle cx="72.6" cy="166.5" r="2.9"/><circle cx="74.2" cy="166" r="2.9"/><circle cx="76.2" cy="168" r="2.9"/><circle cx="81.1" cy="169" r="2.9"/><circle cx="81.9" cy="165.5" r="2.9"/><circle cx="82.7" cy="167.1" r="2.9"/><circle cx="89.3" cy="159.8" r="2.9"/><circle cx="101.3" cy="169.8" r="2.9"/><circle cx="101.3" cy="171.4" r="2.9"/><circle cx="106.9" cy="179.3" r="2.9"/><circle cx="109.2" cy="181.6" r="2.9"/><circle cx="112.7" cy="186.7" r="2.9"/><circle cx="115.1" cy="194.3" r="2.9"/><circle cx="118.3" cy="192.4" r="2.9"/><circle cx="123.5" cy="201.4" r="2.9"/><circle cx="154.3" cy="240.5" r="2.9"/><circle cx="160.5" cy="242" r="2.9"/><circle cx="166.4" cy="250.5" r="2.9"/><circle cx="203.5" cy="263.5" r="2.9"/><circle cx="201.5" cy="266.5" r="2.9"/><circle cx="202.5" cy="265" r="2.9"/><circle cx="203.2" cy="265.5" r="2.9"/></g><path stroke="#c8f000" stroke-width="1.3" fill="none" d="M212.5 247V254M210.5 247.5h4.0M212.5 270V277.5M210.5 277h4.0M214.5 247V254M212.5 247.5h4.0M214.5 270V277.5M212.5 277h4.0M216.5 247V254M214.5 247.5h4.0M216.5 270V277.5M214.5 277h4.0M218.5 247V254M216.5 247.5h4.0M218.5 270V277.5M216.5 277h4.0M220.5 247V254M218.5 247.5h4.0M220.5 270V277.5M218.5 277h4.0"/><path d="M215.6 252.5L218.5 258L217.5 258L220.5 263.5L219.5 263.5L223.6 270.8L209.6 270.8L213.2 263.5L212.2 263.5L214.2 258L213 258Z" fill="#2a852a" stroke="#006a00" stroke-width="1.3"/><path stroke="#006a00" stroke-width="1.1" fill="none" d="M212.2 259.1L215.6 253.1L219.0 259.1ZM210.6 264.6L214.0 258.6L217.4 264.6ZM214.1 263.6L217.5 257.6L220.9 263.6ZM209.4 269.6L212.8 263.6L216.2 269.6ZM212.6 269.1L216.0 263.1L219.4 269.1Z"/><path d="M216.2 269.6L219.4 264.0L222.6 269.6Z" fill="#fff" stroke="#006a00" stroke-width="1.2"/><path fill="#00e000" stroke="#3c2a78" stroke-width="0.6" d="M263.7 278.8L267.5 272.2L271.3 278.8ZM269.5 280.3L273.3 273.7L277.1 280.3ZM277.2 282.3L281.0 275.7L284.8 282.3ZM289.9 285.4L293.7 278.8L297.5 285.4Z"/><path d="M165.4 179.0L167.4 181.1L169.4 183.3L171.4 185.4L173.4 187.4L175.4 189.5L177.4 191.5L179.4 193.4L181.4 195.3L183.4 197.2L185.4 199.1L187.4 200.9L189.4 202.7L191.4 204.4L193.4 206.1L195.4 207.8L197.4 209.4L199.4 211.1L201.4 212.6L203.4 214.2L205.4 215.7L207.4 217.2L209.4 218.7L211.4 220.1L213.4 221.6L215.4 222.9L217.4 224.3L219.4 225.6L221.4 227.0L223.4 228.2L225.4 229.5L227.4 230.7L229.4 232.0L231.4 233.2L233.4 234.3L235.4 235.5L237.4 236.6L239.4 237.7L241.4 238.8L243.4 239.9L245.4 241.0L247.4 242.0L249.4 243.0L251.4 244.0L253.4 245.0L255.4 246.0L257.4 246.9L259.4 247.9L261.4 248.8L263.4 249.7L265.4 250.6L267.4 251.5L269.4 252.4L271.4 253.3L273.4 254.1L275.4 255.0L277.4 255.8L279.4 256.6L281.4 257.4L283.4 258.3L285.4 259.1L287.4 259.9L289.4 260.7L291.4 261.4L293.4 262.2L295.4 263.0L297.4 263.8L299.4 264.6L301.4 265.3L303.4 266.1L305.4 266.9L307.4 267.6L309.4 268.4L311.4 269.1L313.4 269.9L315.4 270.7L317.4 271.4L319.4 272.2L321.4 273.0L323.4 273.7L325.4 274.5L327.4 275.3L329.4 276.1L331.4 276.9" stroke="#00eef4" stroke-width="1.8" fill="none"/><path d="M166.4 250.5L168.4 251.7L170.4 252.8L172.4 253.9L174.4 255.1L176.4 256.1L178.4 257.2L180.4 258.2L182.4 259.2L184.4 260.2L186.4 261.2L188.4 262.1L190.4 263.0L192.4 263.9L194.4 264.8L196.4 265.7L198.4 266.5L200.4 267.3L202.4 268.1L204.4 268.9L206.4 269.6L208.4 270.4L210.4 271.1L212.4 271.8L214.4 272.5L216.4 273.2L218.4 273.8L220.4 274.4L222.4 275.1L224.4 275.7L226.4 276.3L228.4 276.9L230.4 277.4L232.4 278.0L234.4 278.5L236.4 279.1L238.4 279.6L240.4 280.1L242.4 280.6L244.4 281.1L246.4 281.6L248.4 282.0L250.4 282.5L252.4 283.0L254.4 283.4L256.4 283.8L258.4 284.3L260.4 284.7L262.4 285.1L264.4 285.5L266.4 285.9L268.4 286.3L270.4 286.7L272.4 287.1L274.4 287.5L276.4 287.9L278.4 288.3L280.4 288.7L282.4 289.1L284.4 289.4L286.4 289.8L288.4 290.2L290.4 290.6L292.4 291.0L294.4 291.3L296.4 291.7L298.4 292.1L300.4 292.5L302.4 292.9L304.4 293.3L306.4 293.7L308.4 294.1L310.4 294.5L312.4 294.9L314.4 295.3L316.4 295.7L318.4 296.1L320.4 296.6L322.4 297.0L324.4 297.5L326.4 297.9L328.4 298.4L330.4 298.8" stroke="#00eef4" stroke-width="1.8" fill="none"/><path d="M165.3 215.2L167.3 216.6L169.3 218.1L171.3 219.5L173.3 220.9L175.3 222.2L177.3 223.6L179.3 224.9L181.3 226.3L183.3 227.6L185.3 228.9L187.3 230.2L189.3 231.4L191.3 232.7L193.3 233.9L195.3 235.1L197.3 236.3L199.3 237.5L201.3 238.7L203.3 239.9L205.3 241.0L207.3 242.2L209.3 243.3L211.3 244.4L213.3 245.5L215.3 246.5L217.3 247.6L219.3 248.7L221.3 249.7L223.3 250.7L225.3 251.7L227.3 252.7L229.3 253.7L231.3 254.7L233.3 255.6L235.3 256.6L237.3 257.5L239.3 258.4L241.3 259.3L243.3 260.2L245.3 261.1L247.3 261.9L249.3 262.8L251.3 263.6L253.3 264.4L255.3 265.2L257.3 266.0L259.3 266.8L261.3 267.6L263.3 268.4L265.3 269.1L267.3 269.9L269.3 270.6L271.3 271.3L273.3 272.0L275.3 272.7L277.3 273.4L279.3 274.1L281.3 274.7L283.3 275.4L285.3 276.0L287.3 276.6L289.3 277.3L291.3 277.9L293.3 278.5L295.3 279.0L297.3 279.6L299.3 280.2L301.3 280.7L303.3 281.3L305.3 281.8L307.3 282.3L309.3 282.9L311.3 283.4L313.3 283.8L315.3 284.3L317.3 284.8L319.3 285.3L321.3 285.7L323.3 286.2L325.3 286.6L327.3 287.0L329.3 287.5L331.3 287.9" stroke="#a02818" stroke-width="2.3" fill="none"/></g>
<rect x="71.7" y="38.1" width="353.6" height="284.0" fill="none" stroke="#404040" stroke-width="1.3"/><path d="M71.70 322.1v-13.2M71.70 38.1v13.2M83.49 322.1v-6.8M83.49 38.1v6.8M95.27 322.1v-6.8M95.27 38.1v6.8M107.06 322.1v-6.8M107.06 38.1v6.8M118.85 322.1v-13.2M118.85 38.1v13.2M130.63 322.1v-6.8M130.63 38.1v6.8M142.42 322.1v-6.8M142.42 38.1v6.8M154.21 322.1v-6.8M154.21 38.1v6.8M165.99 322.1v-13.2M165.99 38.1v13.2M177.78 322.1v-6.8M177.78 38.1v6.8M189.57 322.1v-6.8M189.57 38.1v6.8M201.35 322.1v-6.8M201.35 38.1v6.8M213.14 322.1v-13.2M213.14 38.1v13.2M224.93 322.1v-6.8M224.93 38.1v6.8M236.71 322.1v-6.8M236.71 38.1v6.8M248.50 322.1v-6.8M248.50 38.1v6.8M260.29 322.1v-13.2M260.29 38.1v13.2M272.07 322.1v-6.8M272.07 38.1v6.8M283.86 322.1v-6.8M283.86 38.1v6.8M295.65 322.1v-6.8M295.65 38.1v6.8M307.43 322.1v-13.2M307.43 38.1v13.2M319.22 322.1v-6.8M319.22 38.1v6.8M331.01 322.1v-6.8M331.01 38.1v6.8M342.79 322.1v-6.8M342.79 38.1v6.8M354.58 322.1v-13.2M354.58 38.1v13.2M366.37 322.1v-6.8M366.37 38.1v6.8M378.15 322.1v-6.8M378.15 38.1v6.8M389.94 322.1v-6.8M389.94 38.1v6.8M401.73 322.1v-13.2M401.73 38.1v13.2M413.51 322.1v-6.8M413.51 38.1v6.8M425.30 322.1v-6.8M425.30 38.1v6.8M71.7 322.10h13.0M425.3 322.10h-13.0M71.7 317.37h6.6M425.3 317.37h-6.6M71.7 312.63h6.6M425.3 312.63h-6.6M71.7 307.90h6.6M425.3 307.90h-6.6M71.7 303.17h6.6M425.3 303.17h-6.6M71.7 298.43h6.6M425.3 298.43h-6.6M71.7 293.70h6.6M425.3 293.70h-6.6M71.7 288.97h6.6M425.3 288.97h-6.6M71.7 284.23h6.6M425.3 284.23h-6.6M71.7 279.50h6.6M425.3 279.50h-6.6M71.7 274.77h13.0M425.3 274.77h-13.0M71.7 270.03h6.6M425.3 270.03h-6.6M71.7 265.30h6.6M425.3 265.30h-6.6M71.7 260.57h6.6M425.3 260.57h-6.6M71.7 255.83h6.6M425.3 255.83h-6.6M71.7 251.10h6.6M425.3 251.10h-6.6M71.7 246.37h6.6M425.3 246.37h-6.6M71.7 241.63h6.6M425.3 241.63h-6.6M71.7 236.90h6.6M425.3 236.90h-6.6M71.7 232.17h6.6M425.3 232.17h-6.6M71.7 227.43h13.0M425.3 227.43h-13.0M71.7 222.70h6.6M425.3 222.70h-6.6M71.7 217.97h6.6M425.3 217.97h-6.6M71.7 213.23h6.6M425.3 213.23h-6.6M71.7 208.50h6.6M425.3 208.50h-6.6M71.7 203.77h6.6M425.3 203.77h-6.6M71.7 199.03h6.6M425.3 199.03h-6.6M71.7 194.30h6.6M425.3 194.30h-6.6M71.7 189.57h6.6M425.3 189.57h-6.6M71.7 184.83h6.6M425.3 184.83h-6.6M71.7 180.10h13.0M425.3 180.10h-13.0M71.7 175.37h6.6M425.3 175.37h-6.6M71.7 170.63h6.6M425.3 170.63h-6.6M71.7 165.90h6.6M425.3 165.90h-6.6M71.7 161.17h6.6M425.3 161.17h-6.6M71.7 156.43h6.6M425.3 156.43h-6.6M71.7 151.70h6.6M425.3 151.70h-6.6M71.7 146.97h6.6M425.3 146.97h-6.6M71.7 142.23h6.6M425.3 142.23h-6.6M71.7 137.50h6.6M425.3 137.50h-6.6M71.7 132.77h13.0M425.3 132.77h-13.0M71.7 128.03h6.6M425.3 128.03h-6.6M71.7 123.30h6.6M425.3 123.30h-6.6M71.7 118.57h6.6M425.3 118.57h-6.6M71.7 113.83h6.6M425.3 113.83h-6.6M71.7 109.10h6.6M425.3 109.10h-6.6M71.7 104.37h6.6M425.3 104.37h-6.6M71.7 99.63h6.6M425.3 99.63h-6.6M71.7 94.90h6.6M425.3 94.90h-6.6M71.7 90.17h6.6M425.3 90.17h-6.6M71.7 85.43h13.0M425.3 85.43h-13.0M71.7 80.70h6.6M425.3 80.70h-6.6M71.7 75.97h6.6M425.3 75.97h-6.6M71.7 71.23h6.6M425.3 71.23h-6.6M71.7 66.50h6.6M425.3 66.50h-6.6M71.7 61.77h6.6M425.3 61.77h-6.6M71.7 57.03h6.6M425.3 57.03h-6.6M71.7 52.30h6.6M425.3 52.30h-6.6M71.7 47.57h6.6M425.3 47.57h-6.6M71.7 42.83h6.6M425.3 42.83h-6.6M71.7 38.10h13.0M425.3 38.10h-13.0" stroke="#454545" stroke-width="1.2" fill="none"/><g font-family="Liberation Sans" font-size="14" fill="#111"><text x="71.7" y="337" text-anchor="middle">0</text><text x="118.8" y="337" text-anchor="middle">20</text><text x="166.0" y="337" text-anchor="middle">40</text><text x="213.1" y="337" text-anchor="middle">60</text><text x="260.3" y="337" text-anchor="middle">80</text><text x="307.4" y="337" text-anchor="middle">100</text><text x="354.6" y="337" text-anchor="middle">120</text><text x="401.7" y="337" text-anchor="middle">140</text><text x="46.3" y="327.4" textLength="18.6" lengthAdjust="spacingAndGlyphs">0.0</text><text x="46.3" y="280.1" textLength="18.6" lengthAdjust="spacingAndGlyphs">0.1</text><text x="46.3" y="232.7" textLength="18.6" lengthAdjust="spacingAndGlyphs">0.2</text><text x="46.3" y="185.4" textLength="18.6" lengthAdjust="spacingAndGlyphs">0.3</text><text x="46.3" y="138.1" textLength="18.6" lengthAdjust="spacingAndGlyphs">0.4</text><text x="46.3" y="90.7" textLength="18.6" lengthAdjust="spacingAndGlyphs">0.5</text><text x="46.3" y="43.4" textLength="18.6" lengthAdjust="spacingAndGlyphs">0.6</text></g><text x="174" y="352" font-family="Liberation Sans" font-size="14.1" fill="#111">Solar phase angle [deg]</text><text transform="translate(32.9,267.6) rotate(-90)" font-family="Liberation Sans" font-size="14.2" textLength="174.5" lengthAdjust="spacing" fill="#111">Whole-disk Albedo (A<tspan font-size="10" dy="3">g</tspan><tspan dy="-3">Φ(<tspan font-family="Liberation Serif" font-style="italic">α</tspan>))</tspan></text><g font-family="Liberation Sans" font-size="11.8" fill="#000"><text x="204.2" y="74.1">2006 Apr-2007 Dec (VMC)</text><text x="204.2" y="90.5">2011 Feb 28-Mar 30 (UVI)</text><text x="204.2" y="106.6">2011 Feb 28-Mar 30 (VMC)</text><text x="204.2" y="122.7">2011 May 11-20 (UVI)</text><text x="204.2" y="139.2">2011 May 11-20 (VMC)</text><text x="204.2" y="155.5">2015 Dec-2017 May (UVI)</text></g><rect x="197.8" y="66.4" width="5.3" height="5.7" fill="#4b0082"/><circle cx="200.6" cy="85.4" r="2.6" fill="#fff" stroke="#ff0000" stroke-width="1.4"/><circle cx="200.6" cy="101.9" r="2.8" fill="#f00000" stroke="#4b0082" stroke-width="0.8"/><path d="M197.4 120.2L200.8 114.4L204.2 120.2Z" fill="none" stroke="#008000" stroke-width="1.2"/><path d="M197.4 136.6L200.8 130.6L204.2 136.6Z" fill="#00e000" stroke="#6a00c0" stroke-width="0.8"/><path d="M200.8 148.5L203.4 151.1L200.8 153.7L198.2 151.1Z" fill="#fff" stroke="#0000ff" stroke-width="1.1"/>
</svg>
</body></html>
